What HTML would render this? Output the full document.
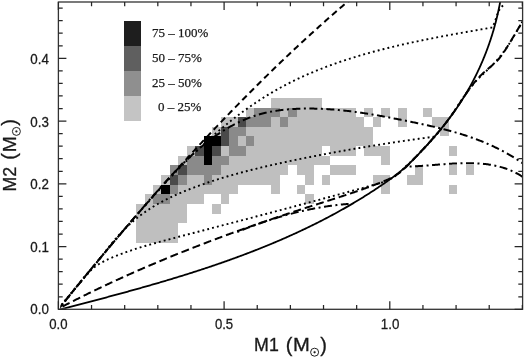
<!DOCTYPE html>
<html><head><meta charset="utf-8"><style>
html,body{margin:0;padding:0;background:#fff;}
body{width:525px;height:358px;overflow:hidden;position:relative;font-family:"Liberation Sans",sans-serif;}
svg{position:absolute;left:0;top:0;will-change:transform;}
</style></head><body>
<svg width="525" height="358" viewBox="0 0 525 358">
<defs><clipPath id="c"><rect x="60.2" y="2.0" width="462.40000000000003" height="306.7"/></clipPath></defs>
<g shape-rendering="crispEdges">
<rect x="136.10" y="232.95" width="8.45" height="9.65" fill="#bfbfbf"/>
<rect x="144.55" y="232.95" width="8.45" height="9.65" fill="#bfbfbf"/>
<rect x="153.00" y="232.95" width="8.45" height="9.65" fill="#bfbfbf"/>
<rect x="161.45" y="232.95" width="8.45" height="9.65" fill="#bfbfbf"/>
<rect x="169.90" y="232.95" width="8.45" height="9.65" fill="#bfbfbf"/>
<rect x="136.10" y="223.30" width="8.45" height="9.65" fill="#bfbfbf"/>
<rect x="144.55" y="223.30" width="8.45" height="9.65" fill="#bfbfbf"/>
<rect x="153.00" y="223.30" width="8.45" height="9.65" fill="#bfbfbf"/>
<rect x="161.45" y="223.30" width="8.45" height="9.65" fill="#bfbfbf"/>
<rect x="169.90" y="223.30" width="8.45" height="9.65" fill="#bfbfbf"/>
<rect x="136.10" y="213.65" width="8.45" height="9.65" fill="#bfbfbf"/>
<rect x="144.55" y="213.65" width="8.45" height="9.65" fill="#bfbfbf"/>
<rect x="153.00" y="213.65" width="8.45" height="9.65" fill="#bfbfbf"/>
<rect x="161.45" y="213.65" width="8.45" height="9.65" fill="#bfbfbf"/>
<rect x="169.90" y="213.65" width="8.45" height="9.65" fill="#bfbfbf"/>
<rect x="178.35" y="213.65" width="8.45" height="9.65" fill="#bfbfbf"/>
<rect x="136.10" y="204.00" width="8.45" height="9.65" fill="#bfbfbf"/>
<rect x="144.55" y="204.00" width="8.45" height="9.65" fill="#bfbfbf"/>
<rect x="153.00" y="204.00" width="8.45" height="9.65" fill="#bfbfbf"/>
<rect x="161.45" y="204.00" width="8.45" height="9.65" fill="#bfbfbf"/>
<rect x="169.90" y="204.00" width="8.45" height="9.65" fill="#bfbfbf"/>
<rect x="178.35" y="204.00" width="8.45" height="9.65" fill="#bfbfbf"/>
<rect x="212.15" y="204.00" width="8.45" height="9.65" fill="#bfbfbf"/>
<rect x="144.55" y="194.35" width="8.45" height="9.65" fill="#bfbfbf"/>
<rect x="153.00" y="194.35" width="8.45" height="9.65" fill="#8a8a8a"/>
<rect x="161.45" y="194.35" width="8.45" height="9.65" fill="#8a8a8a"/>
<rect x="169.90" y="194.35" width="8.45" height="9.65" fill="#bfbfbf"/>
<rect x="178.35" y="194.35" width="8.45" height="9.65" fill="#bfbfbf"/>
<rect x="186.80" y="194.35" width="8.45" height="9.65" fill="#bfbfbf"/>
<rect x="195.25" y="194.35" width="8.45" height="9.65" fill="#bfbfbf"/>
<rect x="220.60" y="194.35" width="8.45" height="9.65" fill="#bfbfbf"/>
<rect x="305.10" y="194.35" width="8.45" height="9.65" fill="#bfbfbf"/>
<rect x="153.00" y="184.70" width="8.45" height="9.65" fill="#bfbfbf"/>
<rect x="161.45" y="184.70" width="8.45" height="9.65" fill="#000000"/>
<rect x="169.90" y="184.70" width="8.45" height="9.65" fill="#8a8a8a"/>
<rect x="178.35" y="184.70" width="8.45" height="9.65" fill="#bfbfbf"/>
<rect x="186.80" y="184.70" width="8.45" height="9.65" fill="#bfbfbf"/>
<rect x="195.25" y="184.70" width="8.45" height="9.65" fill="#bfbfbf"/>
<rect x="203.70" y="184.70" width="8.45" height="9.65" fill="#bfbfbf"/>
<rect x="212.15" y="184.70" width="8.45" height="9.65" fill="#bfbfbf"/>
<rect x="220.60" y="184.70" width="8.45" height="9.65" fill="#bfbfbf"/>
<rect x="229.05" y="184.70" width="8.45" height="9.65" fill="#bfbfbf"/>
<rect x="271.30" y="184.70" width="8.45" height="9.65" fill="#bfbfbf"/>
<rect x="296.65" y="184.70" width="8.45" height="9.65" fill="#bfbfbf"/>
<rect x="381.15" y="184.70" width="8.45" height="9.65" fill="#bfbfbf"/>
<rect x="448.75" y="184.70" width="8.45" height="9.65" fill="#bfbfbf"/>
<rect x="161.45" y="175.05" width="8.45" height="9.65" fill="#bfbfbf"/>
<rect x="169.90" y="175.05" width="8.45" height="9.65" fill="#4a4a4a"/>
<rect x="178.35" y="175.05" width="8.45" height="9.65" fill="#8a8a8a"/>
<rect x="186.80" y="175.05" width="8.45" height="9.65" fill="#bfbfbf"/>
<rect x="195.25" y="175.05" width="8.45" height="9.65" fill="#bfbfbf"/>
<rect x="203.70" y="175.05" width="8.45" height="9.65" fill="#8a8a8a"/>
<rect x="212.15" y="175.05" width="8.45" height="9.65" fill="#bfbfbf"/>
<rect x="220.60" y="175.05" width="8.45" height="9.65" fill="#bfbfbf"/>
<rect x="229.05" y="175.05" width="8.45" height="9.65" fill="#bfbfbf"/>
<rect x="237.50" y="175.05" width="8.45" height="9.65" fill="#bfbfbf"/>
<rect x="245.95" y="175.05" width="8.45" height="9.65" fill="#bfbfbf"/>
<rect x="254.40" y="175.05" width="8.45" height="9.65" fill="#bfbfbf"/>
<rect x="262.85" y="175.05" width="8.45" height="9.65" fill="#bfbfbf"/>
<rect x="271.30" y="175.05" width="8.45" height="9.65" fill="#bfbfbf"/>
<rect x="305.10" y="175.05" width="8.45" height="9.65" fill="#bfbfbf"/>
<rect x="322.00" y="175.05" width="8.45" height="9.65" fill="#bfbfbf"/>
<rect x="372.70" y="175.05" width="8.45" height="9.65" fill="#bfbfbf"/>
<rect x="381.15" y="175.05" width="8.45" height="9.65" fill="#bfbfbf"/>
<rect x="406.50" y="175.05" width="8.45" height="9.65" fill="#bfbfbf"/>
<rect x="414.95" y="175.05" width="8.45" height="9.65" fill="#bfbfbf"/>
<rect x="169.90" y="165.40" width="8.45" height="9.65" fill="#8a8a8a"/>
<rect x="178.35" y="165.40" width="8.45" height="9.65" fill="#4a4a4a"/>
<rect x="186.80" y="165.40" width="8.45" height="9.65" fill="#8a8a8a"/>
<rect x="195.25" y="165.40" width="8.45" height="9.65" fill="#8a8a8a"/>
<rect x="203.70" y="165.40" width="8.45" height="9.65" fill="#8a8a8a"/>
<rect x="212.15" y="165.40" width="8.45" height="9.65" fill="#8a8a8a"/>
<rect x="220.60" y="165.40" width="8.45" height="9.65" fill="#bfbfbf"/>
<rect x="229.05" y="165.40" width="8.45" height="9.65" fill="#bfbfbf"/>
<rect x="237.50" y="165.40" width="8.45" height="9.65" fill="#bfbfbf"/>
<rect x="245.95" y="165.40" width="8.45" height="9.65" fill="#bfbfbf"/>
<rect x="254.40" y="165.40" width="8.45" height="9.65" fill="#bfbfbf"/>
<rect x="262.85" y="165.40" width="8.45" height="9.65" fill="#bfbfbf"/>
<rect x="271.30" y="165.40" width="8.45" height="9.65" fill="#bfbfbf"/>
<rect x="279.75" y="165.40" width="8.45" height="9.65" fill="#bfbfbf"/>
<rect x="296.65" y="165.40" width="8.45" height="9.65" fill="#bfbfbf"/>
<rect x="305.10" y="165.40" width="8.45" height="9.65" fill="#bfbfbf"/>
<rect x="330.45" y="165.40" width="8.45" height="9.65" fill="#bfbfbf"/>
<rect x="338.90" y="165.40" width="8.45" height="9.65" fill="#bfbfbf"/>
<rect x="347.35" y="165.40" width="8.45" height="9.65" fill="#bfbfbf"/>
<rect x="414.95" y="165.40" width="8.45" height="9.65" fill="#bfbfbf"/>
<rect x="448.75" y="165.40" width="8.45" height="9.65" fill="#bfbfbf"/>
<rect x="465.65" y="165.40" width="8.45" height="9.65" fill="#bfbfbf"/>
<rect x="178.35" y="155.75" width="8.45" height="9.65" fill="#bfbfbf"/>
<rect x="186.80" y="155.75" width="8.45" height="9.65" fill="#8a8a8a"/>
<rect x="195.25" y="155.75" width="8.45" height="9.65" fill="#8a8a8a"/>
<rect x="203.70" y="155.75" width="8.45" height="9.65" fill="#000000"/>
<rect x="212.15" y="155.75" width="8.45" height="9.65" fill="#8a8a8a"/>
<rect x="220.60" y="155.75" width="8.45" height="9.65" fill="#8a8a8a"/>
<rect x="229.05" y="155.75" width="8.45" height="9.65" fill="#bfbfbf"/>
<rect x="237.50" y="155.75" width="8.45" height="9.65" fill="#bfbfbf"/>
<rect x="245.95" y="155.75" width="8.45" height="9.65" fill="#bfbfbf"/>
<rect x="254.40" y="155.75" width="8.45" height="9.65" fill="#bfbfbf"/>
<rect x="262.85" y="155.75" width="8.45" height="9.65" fill="#bfbfbf"/>
<rect x="271.30" y="155.75" width="8.45" height="9.65" fill="#bfbfbf"/>
<rect x="279.75" y="155.75" width="8.45" height="9.65" fill="#bfbfbf"/>
<rect x="288.20" y="155.75" width="8.45" height="9.65" fill="#bfbfbf"/>
<rect x="296.65" y="155.75" width="8.45" height="9.65" fill="#bfbfbf"/>
<rect x="305.10" y="155.75" width="8.45" height="9.65" fill="#bfbfbf"/>
<rect x="313.55" y="155.75" width="8.45" height="9.65" fill="#bfbfbf"/>
<rect x="322.00" y="155.75" width="8.45" height="9.65" fill="#bfbfbf"/>
<rect x="381.15" y="155.75" width="8.45" height="9.65" fill="#bfbfbf"/>
<rect x="186.80" y="146.10" width="8.45" height="9.65" fill="#bfbfbf"/>
<rect x="195.25" y="146.10" width="8.45" height="9.65" fill="#4a4a4a"/>
<rect x="203.70" y="146.10" width="8.45" height="9.65" fill="#000000"/>
<rect x="212.15" y="146.10" width="8.45" height="9.65" fill="#4a4a4a"/>
<rect x="220.60" y="146.10" width="8.45" height="9.65" fill="#bfbfbf"/>
<rect x="229.05" y="146.10" width="8.45" height="9.65" fill="#8a8a8a"/>
<rect x="237.50" y="146.10" width="8.45" height="9.65" fill="#8a8a8a"/>
<rect x="245.95" y="146.10" width="8.45" height="9.65" fill="#bfbfbf"/>
<rect x="254.40" y="146.10" width="8.45" height="9.65" fill="#bfbfbf"/>
<rect x="262.85" y="146.10" width="8.45" height="9.65" fill="#bfbfbf"/>
<rect x="271.30" y="146.10" width="8.45" height="9.65" fill="#bfbfbf"/>
<rect x="279.75" y="146.10" width="8.45" height="9.65" fill="#bfbfbf"/>
<rect x="288.20" y="146.10" width="8.45" height="9.65" fill="#bfbfbf"/>
<rect x="296.65" y="146.10" width="8.45" height="9.65" fill="#bfbfbf"/>
<rect x="305.10" y="146.10" width="8.45" height="9.65" fill="#bfbfbf"/>
<rect x="313.55" y="146.10" width="8.45" height="9.65" fill="#bfbfbf"/>
<rect x="330.45" y="146.10" width="8.45" height="9.65" fill="#bfbfbf"/>
<rect x="338.90" y="146.10" width="8.45" height="9.65" fill="#bfbfbf"/>
<rect x="347.35" y="146.10" width="8.45" height="9.65" fill="#bfbfbf"/>
<rect x="364.25" y="146.10" width="8.45" height="9.65" fill="#bfbfbf"/>
<rect x="372.70" y="146.10" width="8.45" height="9.65" fill="#bfbfbf"/>
<rect x="381.15" y="146.10" width="8.45" height="9.65" fill="#bfbfbf"/>
<rect x="448.75" y="146.10" width="8.45" height="9.65" fill="#bfbfbf"/>
<rect x="203.70" y="136.45" width="8.45" height="9.65" fill="#000000"/>
<rect x="212.15" y="136.45" width="8.45" height="9.65" fill="#000000"/>
<rect x="220.60" y="136.45" width="8.45" height="9.65" fill="#4a4a4a"/>
<rect x="229.05" y="136.45" width="8.45" height="9.65" fill="#8a8a8a"/>
<rect x="237.50" y="136.45" width="8.45" height="9.65" fill="#bfbfbf"/>
<rect x="245.95" y="136.45" width="8.45" height="9.65" fill="#8a8a8a"/>
<rect x="254.40" y="136.45" width="8.45" height="9.65" fill="#bfbfbf"/>
<rect x="262.85" y="136.45" width="8.45" height="9.65" fill="#bfbfbf"/>
<rect x="271.30" y="136.45" width="8.45" height="9.65" fill="#bfbfbf"/>
<rect x="279.75" y="136.45" width="8.45" height="9.65" fill="#bfbfbf"/>
<rect x="288.20" y="136.45" width="8.45" height="9.65" fill="#bfbfbf"/>
<rect x="296.65" y="136.45" width="8.45" height="9.65" fill="#bfbfbf"/>
<rect x="305.10" y="136.45" width="8.45" height="9.65" fill="#bfbfbf"/>
<rect x="313.55" y="136.45" width="8.45" height="9.65" fill="#bfbfbf"/>
<rect x="322.00" y="136.45" width="8.45" height="9.65" fill="#bfbfbf"/>
<rect x="330.45" y="136.45" width="8.45" height="9.65" fill="#bfbfbf"/>
<rect x="338.90" y="136.45" width="8.45" height="9.65" fill="#bfbfbf"/>
<rect x="347.35" y="136.45" width="8.45" height="9.65" fill="#bfbfbf"/>
<rect x="355.80" y="136.45" width="8.45" height="9.65" fill="#bfbfbf"/>
<rect x="364.25" y="136.45" width="8.45" height="9.65" fill="#bfbfbf"/>
<rect x="212.15" y="126.80" width="8.45" height="9.65" fill="#bfbfbf"/>
<rect x="220.60" y="126.80" width="8.45" height="9.65" fill="#4a4a4a"/>
<rect x="229.05" y="126.80" width="8.45" height="9.65" fill="#8a8a8a"/>
<rect x="237.50" y="126.80" width="8.45" height="9.65" fill="#8a8a8a"/>
<rect x="245.95" y="126.80" width="8.45" height="9.65" fill="#bfbfbf"/>
<rect x="254.40" y="126.80" width="8.45" height="9.65" fill="#bfbfbf"/>
<rect x="262.85" y="126.80" width="8.45" height="9.65" fill="#bfbfbf"/>
<rect x="271.30" y="126.80" width="8.45" height="9.65" fill="#bfbfbf"/>
<rect x="279.75" y="126.80" width="8.45" height="9.65" fill="#bfbfbf"/>
<rect x="288.20" y="126.80" width="8.45" height="9.65" fill="#bfbfbf"/>
<rect x="296.65" y="126.80" width="8.45" height="9.65" fill="#bfbfbf"/>
<rect x="305.10" y="126.80" width="8.45" height="9.65" fill="#bfbfbf"/>
<rect x="313.55" y="126.80" width="8.45" height="9.65" fill="#bfbfbf"/>
<rect x="322.00" y="126.80" width="8.45" height="9.65" fill="#bfbfbf"/>
<rect x="330.45" y="126.80" width="8.45" height="9.65" fill="#bfbfbf"/>
<rect x="338.90" y="126.80" width="8.45" height="9.65" fill="#bfbfbf"/>
<rect x="347.35" y="126.80" width="8.45" height="9.65" fill="#bfbfbf"/>
<rect x="355.80" y="126.80" width="8.45" height="9.65" fill="#bfbfbf"/>
<rect x="364.25" y="126.80" width="8.45" height="9.65" fill="#bfbfbf"/>
<rect x="440.30" y="126.80" width="8.45" height="9.65" fill="#bfbfbf"/>
<rect x="220.60" y="117.15" width="8.45" height="9.65" fill="#bfbfbf"/>
<rect x="229.05" y="117.15" width="8.45" height="9.65" fill="#bfbfbf"/>
<rect x="237.50" y="117.15" width="8.45" height="9.65" fill="#4a4a4a"/>
<rect x="245.95" y="117.15" width="8.45" height="9.65" fill="#8a8a8a"/>
<rect x="254.40" y="117.15" width="8.45" height="9.65" fill="#8a8a8a"/>
<rect x="262.85" y="117.15" width="8.45" height="9.65" fill="#8a8a8a"/>
<rect x="271.30" y="117.15" width="8.45" height="9.65" fill="#bfbfbf"/>
<rect x="279.75" y="117.15" width="8.45" height="9.65" fill="#8a8a8a"/>
<rect x="288.20" y="117.15" width="8.45" height="9.65" fill="#bfbfbf"/>
<rect x="296.65" y="117.15" width="8.45" height="9.65" fill="#bfbfbf"/>
<rect x="305.10" y="117.15" width="8.45" height="9.65" fill="#bfbfbf"/>
<rect x="313.55" y="117.15" width="8.45" height="9.65" fill="#bfbfbf"/>
<rect x="322.00" y="117.15" width="8.45" height="9.65" fill="#bfbfbf"/>
<rect x="330.45" y="117.15" width="8.45" height="9.65" fill="#bfbfbf"/>
<rect x="338.90" y="117.15" width="8.45" height="9.65" fill="#bfbfbf"/>
<rect x="347.35" y="117.15" width="8.45" height="9.65" fill="#bfbfbf"/>
<rect x="355.80" y="117.15" width="8.45" height="9.65" fill="#bfbfbf"/>
<rect x="372.70" y="117.15" width="8.45" height="9.65" fill="#bfbfbf"/>
<rect x="398.05" y="117.15" width="8.45" height="9.65" fill="#bfbfbf"/>
<rect x="431.85" y="117.15" width="8.45" height="9.65" fill="#bfbfbf"/>
<rect x="440.30" y="117.15" width="8.45" height="9.65" fill="#bfbfbf"/>
<rect x="245.95" y="107.50" width="8.45" height="9.65" fill="#bfbfbf"/>
<rect x="254.40" y="107.50" width="8.45" height="9.65" fill="#8a8a8a"/>
<rect x="262.85" y="107.50" width="8.45" height="9.65" fill="#8a8a8a"/>
<rect x="271.30" y="107.50" width="8.45" height="9.65" fill="#8a8a8a"/>
<rect x="279.75" y="107.50" width="8.45" height="9.65" fill="#bfbfbf"/>
<rect x="288.20" y="107.50" width="8.45" height="9.65" fill="#8a8a8a"/>
<rect x="296.65" y="107.50" width="8.45" height="9.65" fill="#bfbfbf"/>
<rect x="305.10" y="107.50" width="8.45" height="9.65" fill="#bfbfbf"/>
<rect x="313.55" y="107.50" width="8.45" height="9.65" fill="#bfbfbf"/>
<rect x="322.00" y="107.50" width="8.45" height="9.65" fill="#bfbfbf"/>
<rect x="330.45" y="107.50" width="8.45" height="9.65" fill="#bfbfbf"/>
<rect x="338.90" y="107.50" width="8.45" height="9.65" fill="#bfbfbf"/>
<rect x="347.35" y="107.50" width="8.45" height="9.65" fill="#bfbfbf"/>
<rect x="364.25" y="107.50" width="8.45" height="9.65" fill="#bfbfbf"/>
<rect x="381.15" y="107.50" width="8.45" height="9.65" fill="#bfbfbf"/>
<rect x="398.05" y="107.50" width="8.45" height="9.65" fill="#bfbfbf"/>
<rect x="423.40" y="107.50" width="8.45" height="9.65" fill="#bfbfbf"/>
<rect x="271.30" y="97.85" width="8.45" height="9.65" fill="#bfbfbf"/>
<rect x="279.75" y="97.85" width="8.45" height="9.65" fill="#bfbfbf"/>
<rect x="288.20" y="97.85" width="8.45" height="9.65" fill="#bfbfbf"/>
<rect x="296.65" y="97.85" width="8.45" height="9.65" fill="#bfbfbf"/>
<rect x="305.10" y="97.85" width="8.45" height="9.65" fill="#bfbfbf"/>
<rect x="313.55" y="97.85" width="8.45" height="9.65" fill="#bfbfbf"/>
</g>
<g fill="none" stroke="#000" stroke-width="2.0" clip-path="url(#c)">
<path d="M58.72,309.83 L59.67,309.58 L60.63,309.33 L61.59,309.09 L62.55,308.84 L63.50,308.59 L64.46,308.34 L65.42,308.10 L66.38,307.85 L67.34,307.60 L68.30,307.35 L69.25,307.10 L70.21,306.85 L71.17,306.60 L72.13,306.36 L73.09,306.11 L74.05,305.86 L75.01,305.61 L75.97,305.36 L76.93,305.11 L77.89,304.86 L78.85,304.61 L79.82,304.36 L80.78,304.11 L81.74,303.86 L82.70,303.61 L83.66,303.36 L84.62,303.10 L85.58,302.85 L86.54,302.60 L87.51,302.35 L88.47,302.10 L89.43,301.85 L90.39,301.59 L91.36,301.34 L92.32,301.09 L93.28,300.83 L94.24,300.58 L95.21,300.33 L96.17,300.07 L97.13,299.82 L98.09,299.56 L99.06,299.31 L100.02,299.05 L100.98,298.80 L101.95,298.54 L102.91,298.29 L103.87,298.03 L104.84,297.77 L105.80,297.52 L106.77,297.26 L107.73,297.00 L108.69,296.74 L109.66,296.48 L110.62,296.23 L111.58,295.97 L112.55,295.71 L113.51,295.45 L114.48,295.19 L115.44,294.93 L116.40,294.67 L117.37,294.41 L118.33,294.14 L119.30,293.88 L120.26,293.62 L121.22,293.36 L122.19,293.10 L123.15,292.83 L124.12,292.57 L125.08,292.30 L126.04,292.04 L127.01,291.77 L127.97,291.51 L128.94,291.24 L129.90,290.98 L130.86,290.71 L131.83,290.44 L132.79,290.18 L133.76,289.91 L134.72,289.64 L135.68,289.37 L136.65,289.10 L137.61,288.83 L138.57,288.56 L139.54,288.29 L140.50,288.02 L141.46,287.75 L142.43,287.47 L143.39,287.20 L144.35,286.93 L145.32,286.66 L146.28,286.38 L147.24,286.11 L148.20,285.83 L149.17,285.56 L150.13,285.28 L151.09,285.00 L152.05,284.72 L153.02,284.45 L153.98,284.17 L154.94,283.89 L155.90,283.61 L156.87,283.33 L157.83,283.05 L158.79,282.77 L159.75,282.49 L160.71,282.20 L161.67,281.92 L162.63,281.64 L163.59,281.35 L164.55,281.07 L165.52,280.78 L166.48,280.50 L167.44,280.21 L168.40,279.92 L169.36,279.63 L170.32,279.35 L171.27,279.06 L172.23,278.77 L173.19,278.48 L174.15,278.18 L175.11,277.89 L176.07,277.60 L177.03,277.31 L177.99,277.01 L178.94,276.72 L179.90,276.42 L180.86,276.13 L181.82,275.83 L182.77,275.54 L183.73,275.24 L184.69,274.94 L185.65,274.64 L186.60,274.34 L187.56,274.04 L188.51,273.74 L189.47,273.44 L190.42,273.13 L191.38,272.83 L192.33,272.53 L193.29,272.22 L194.24,271.91 L195.20,271.61 L196.15,271.30 L197.10,270.99 L198.06,270.68 L199.01,270.37 L199.96,270.06 L200.92,269.75 L201.87,269.44 L202.82,269.13 L203.77,268.81 L204.72,268.50 L205.67,268.19 L206.63,267.87 L207.58,267.55 L208.53,267.24 L209.48,266.92 L210.43,266.60 L211.37,266.28 L212.32,265.96 L213.27,265.63 L214.22,265.31 L215.17,264.99 L216.12,264.66 L217.06,264.34 L218.01,264.01 L218.96,263.69 L219.90,263.36 L220.85,263.03 L221.79,262.70 L222.74,262.37 L223.68,262.04 L224.63,261.71 L225.57,261.37 L226.52,261.04 L227.46,260.71 L228.40,260.37 L229.35,260.03 L230.29,259.70 L231.23,259.36 L232.17,259.02 L233.11,258.68 L234.05,258.34 L234.99,257.99 L235.93,257.65 L236.87,257.31 L237.81,256.96 L238.75,256.61 L239.69,256.27 L240.63,255.92 L241.56,255.57 L242.50,255.22 L243.44,254.87 L244.37,254.52 L245.31,254.16 L246.24,253.81 L247.18,253.45 L248.11,253.10 L249.05,252.74 L249.98,252.38 L250.91,252.02 L251.84,251.66 L252.78,251.30 L253.71,250.94 L254.64,250.58 L255.57,250.21 L256.50,249.85 L257.43,249.48 L258.36,249.11 L259.29,248.74 L260.21,248.37 L261.14,248.00 L262.07,247.63 L263.00,247.26 L263.92,246.88 L264.85,246.51 L265.77,246.13 L266.70,245.75 L267.62,245.38 L268.55,245.00 L269.47,244.61 L270.39,244.23 L271.31,243.85 L272.23,243.47 L273.15,243.08 L274.08,242.69 L274.99,242.31 L275.91,241.92 L276.83,241.53 L277.75,241.14 L278.67,240.74 L279.59,240.35 L280.50,239.96 L281.42,239.56 L282.33,239.16 L283.25,238.76 L284.16,238.36 L285.08,237.96 L285.99,237.56 L286.90,237.16 L287.81,236.75 L288.72,236.35 L289.63,235.94 L290.54,235.53 L291.45,235.12 L292.36,234.71 L293.27,234.30 L294.18,233.89 L295.09,233.47 L295.99,233.06 L296.90,232.64 L297.80,232.22 L298.71,231.80 L299.61,231.38 L300.51,230.96 L301.42,230.54 L302.32,230.11 L303.22,229.69 L304.12,229.26 L305.02,228.83 L305.92,228.40 L306.82,227.97 L307.71,227.54 L308.61,227.11 L309.51,226.67 L310.40,226.23 L311.30,225.80 L312.19,225.36 L313.09,224.92 L313.98,224.47 L314.87,224.03 L315.76,223.59 L316.66,223.14 L317.55,222.69 L318.44,222.25 L319.32,221.80 L320.21,221.34 L321.10,220.89 L321.99,220.44 L322.87,219.98 L323.76,219.52 L324.64,219.07 L325.53,218.61 L326.41,218.14 L327.29,217.68 L328.17,217.22 L329.05,216.75 L329.93,216.28 L330.81,215.82 L331.69,215.35 L332.57,214.87 L333.45,214.40 L334.32,213.93 L335.20,213.45 L336.07,212.97 L336.95,212.49 L337.82,212.01 L338.69,211.53 L339.56,211.05 L340.43,210.56 L341.30,210.08 L342.17,209.59 L343.04,209.10 L343.91,208.61 L344.78,208.12 L345.64,207.62 L346.51,207.13 L347.37,206.63 L348.23,206.13 L349.10,205.63 L349.96,205.13 L350.82,204.63 L351.68,204.12 L352.54,203.62 L353.40,203.11 L354.25,202.60 L355.11,202.09 L355.97,201.58 L356.82,201.06 L357.68,200.55 L358.53,200.03 L359.38,199.51 L360.23,198.99 L361.08,198.47 L361.93,197.94 L362.78,197.42 L363.63,196.89 L364.48,196.36 L365.32,195.83 L366.17,195.30 L367.01,194.77 L367.86,194.23 L368.70,193.69 L369.54,193.15 L370.38,192.61 L371.22,192.07 L372.06,191.53 L372.90,190.98 L373.74,190.44 L374.57,189.89 L375.41,189.34 L376.24,188.78 L377.07,188.23 L377.91,187.68 L378.74,187.12 L379.57,186.56 L380.40,186.00 L381.23,185.44 L382.06,184.87 L382.88,184.31 L383.71,183.74 L384.53,183.17 L385.36,182.60 L386.18,182.02 L387.00,181.45 L387.82,180.87 L388.63,180.29 L389.45,179.71 L390.26,179.12 L391.07,178.53 L391.88,177.94 L392.68,177.35 L393.49,176.75 L394.29,176.15 L395.08,175.54 L395.88,174.93 L396.67,174.32 L397.46,173.71 L398.24,173.09 L399.02,172.47 L399.80,171.84 L400.57,171.21 L401.34,170.57 L402.11,169.93 L402.87,169.29 L403.62,168.64 L404.37,167.99 L405.12,167.33 L405.86,166.67 L406.60,166.00 L407.34,165.33 L408.06,164.65 L408.79,163.97 L409.51,163.29 L410.23,162.60 L410.94,161.91 L411.66,161.21 L412.36,160.52 L413.07,159.81 L413.77,159.11 L414.47,158.40 L415.17,157.69 L415.86,156.98 L416.56,156.26 L417.25,155.55 L417.93,154.83 L418.62,154.10 L419.31,153.38 L419.99,152.65 L420.67,151.93 L421.36,151.20 L422.04,150.47 L422.72,149.74 L423.40,149.01 L424.08,148.27 L424.75,147.54 L425.43,146.80 L426.10,146.06 L426.78,145.32 L427.45,144.58 L428.12,143.84 L428.79,143.10 L429.46,142.35 L430.12,141.60 L430.79,140.86 L431.45,140.11 L432.11,139.36 L432.78,138.60 L433.43,137.85 L434.09,137.09 L434.75,136.34 L435.40,135.58 L436.05,134.82 L436.70,134.05 L437.35,133.29 L438.00,132.53 L438.64,131.76 L439.28,130.99 L439.92,130.22 L440.56,129.45 L441.20,128.67 L441.83,127.90 L442.46,127.12 L443.09,126.34 L443.72,125.56 L444.34,124.78 L444.97,123.99 L445.59,123.21 L446.20,122.42 L446.82,121.63 L447.43,120.84 L448.04,120.04 L448.65,119.25 L449.25,118.45 L449.85,117.65 L450.45,116.85 L451.05,116.05 L451.64,115.24 L452.23,114.44 L452.82,113.63 L453.40,112.82 L453.98,112.00 L454.56,111.19 L455.14,110.37 L455.71,109.55 L456.28,108.73 L456.84,107.91 L457.41,107.08 L457.97,106.26 L458.52,105.43 L459.08,104.60 L459.63,103.76 L460.17,102.93 L460.72,102.09 L461.26,101.25 L461.79,100.41 L462.33,99.57 L462.86,98.72 L463.39,97.88 L463.91,97.03 L464.43,96.18 L464.95,95.32 L465.46,94.47 L465.98,93.61 L466.48,92.76 L466.99,91.90 L467.49,91.03 L467.99,90.17 L468.49,89.31 L468.98,88.44 L469.47,87.57 L469.95,86.70 L470.44,85.83 L470.92,84.95 L471.39,84.08 L471.86,83.20 L472.33,82.32 L472.80,81.44 L473.26,80.56 L473.72,79.67 L474.18,78.79 L474.63,77.90 L475.08,77.01 L475.53,76.12 L475.98,75.23 L476.42,74.33 L476.85,73.43 L477.29,72.54 L477.72,71.64 L478.14,70.74 L478.57,69.83 L478.99,68.93 L479.41,68.03 L479.82,67.12 L480.23,66.21 L480.64,65.30 L481.04,64.39 L481.44,63.47 L481.84,62.56 L482.24,61.64 L482.63,60.73 L483.01,59.81 L483.40,58.89 L483.78,57.96 L484.16,57.04 L484.53,56.12 L484.90,55.19 L485.27,54.26 L485.63,53.33 L486.00,52.40 L486.35,51.47 L486.71,50.54 L487.06,49.60 L487.41,48.67 L487.75,47.73 L488.09,46.79 L488.43,45.85 L488.76,44.91 L489.09,43.97 L489.42,43.02 L489.74,42.08 L490.07,41.13 L490.38,40.18 L490.70,39.24 L491.01,38.29 L491.31,37.33 L491.62,36.38 L491.92,35.43 L492.22,34.47 L492.51,33.52 L492.80,32.56 L493.09,31.60 L493.37,30.64 L493.65,29.68 L493.93,28.72 L494.20,27.76 L494.47,26.79 L494.73,25.83 L495.00,24.86 L495.26,23.89 L495.51,22.92 L495.76,21.96 L496.01,20.98 L496.26,20.01 L496.50,19.04 L496.74,18.07 L496.98,17.09 L497.21,16.12 L497.44,15.14 L497.66,14.16 L497.88,13.18 L498.10,12.20 L498.31,11.22 L498.52,10.24 L498.73,9.26 L498.94,8.28 L499.14,7.29 L499.33,6.31 L499.53,5.32 L499.72,4.33 L499.90,3.35 L500.09,2.36 L500.27,1.37 L500.44,0.38" stroke-width="1.8"/>
<path d="M58.40,309.30 L59.40,308.05 L60.40,306.80 L61.40,305.56 L62.40,304.31 L63.40,303.07 L64.40,301.82 L65.40,300.58 L66.40,299.34 L67.40,298.10 L68.40,296.86 L69.40,295.62 L70.40,294.39 L71.40,293.15 L72.40,291.92 L73.40,290.68 L74.40,289.45 L75.40,288.22 L76.40,286.99 L77.40,285.76 L78.40,284.53 L79.40,283.31 L80.40,282.08 L81.40,280.86 L82.40,279.63 L83.40,278.41 L84.40,277.19 L85.40,275.97 L86.40,274.75 L87.40,273.54 L88.40,272.32 L89.40,271.11 L90.40,269.89 L91.40,268.68 L92.40,267.47 L93.40,266.26 L94.40,265.05 L95.40,263.84 L96.40,262.63 L97.40,261.43 L98.40,260.22 L99.40,259.02 L100.40,257.82 L101.40,256.62 L102.40,255.42 L103.40,254.22 L104.40,253.02 L105.40,251.82 L106.40,250.63 L107.40,249.44 L108.40,248.24 L109.40,247.05 L110.40,245.86 L111.40,244.67 L112.40,243.48 L113.40,242.30 L114.40,241.11 L115.40,239.93 L116.40,238.75 L117.40,237.56 L118.40,236.38 L119.40,235.20 L120.40,234.03 L121.40,232.85 L122.40,231.67 L123.40,230.50 L124.40,229.33 L125.40,228.15 L126.40,226.98 L127.40,225.81 L128.40,224.64 L129.40,223.48 L130.40,222.31 L131.40,221.15 L132.40,219.98 L133.40,218.82 L134.40,217.66 L135.40,216.50 L136.40,215.34 L137.40,214.19 L138.40,213.03 L139.40,211.87 L140.40,210.72 L141.40,209.57 L142.40,208.42 L143.40,207.27 L144.40,206.12 L145.40,204.97 L146.40,203.83 L147.40,202.68 L148.40,201.54 L149.40,200.40 L150.40,199.26 L151.40,198.12 L152.40,196.98 L153.40,195.84 L154.40,194.71 L155.40,193.57 L156.40,192.44 L157.40,191.31 L158.40,190.18 L159.40,189.05 L160.40,187.92 L161.40,186.79 L162.40,185.67 L163.40,184.54 L164.40,183.42 L165.40,182.30 L166.40,181.18 L167.40,180.06 L168.40,178.94 L169.40,177.83 L170.40,176.71 L171.40,175.60 L172.40,174.49 L173.40,173.38 L174.40,172.27 L175.40,171.16 L176.40,170.05 L177.40,168.95 L178.40,167.84 L179.40,166.74 L180.40,165.64 L181.40,164.54 L182.40,163.44 L183.40,162.34 L184.40,161.24 L185.40,160.15 L186.40,159.06 L187.40,157.96 L188.40,156.87 L189.40,155.78 L190.40,154.69 L191.40,153.61 L192.40,152.52 L193.40,151.44 L194.40,150.36 L195.40,149.27 L196.40,148.19 L197.40,147.12 L198.40,146.04 L199.40,144.96 L200.40,143.89 L201.40,142.81 L202.40,141.74 L203.40,140.67 L204.40,139.60 L205.40,138.54 L206.40,137.47 L207.40,136.40 L208.40,135.34 L209.40,134.28 L210.40,133.22 L211.40,132.16 L212.40,131.10 L213.40,130.04 L214.40,128.99 L215.40,127.93 L216.40,126.88 L217.40,125.83 L218.40,124.78 L219.40,123.73 L220.40,122.69 L221.40,121.64 L222.40,120.60 L223.40,119.56 L224.40,118.51 L225.40,117.47 L226.40,116.44 L227.40,115.40 L228.40,114.36 L229.40,113.33 L230.40,112.30 L231.40,111.27 L232.40,110.24 L233.40,109.21 L234.40,108.18 L235.40,107.16 L236.40,106.13 L237.40,105.11 L238.40,104.09 L239.40,103.07 L240.40,102.05 L241.40,101.03 L242.40,100.02 L243.40,99.00 L244.40,97.99 L245.40,96.98 L246.40,95.97 L247.40,94.96 L248.40,93.96 L249.40,92.95 L250.40,91.95 L251.40,90.95 L252.40,89.95 L253.40,88.95 L254.40,87.95 L255.40,86.95 L256.40,85.96 L257.40,84.96 L258.40,83.97 L259.40,82.98 L260.40,81.99 L261.40,81.01 L262.40,80.02 L263.40,79.03 L264.40,78.05 L265.40,77.07 L266.40,76.09 L267.40,75.11 L268.40,74.13 L269.40,73.16 L270.40,72.19 L271.40,71.21 L272.40,70.24 L273.40,69.27 L274.40,68.30 L275.40,67.34 L276.40,66.37 L277.40,65.41 L278.40,64.45 L279.40,63.49 L280.40,62.53 L281.40,61.57 L282.40,60.62 L283.40,59.66 L284.40,58.71 L285.40,57.76 L286.40,56.81 L287.40,55.86 L288.40,54.91 L289.40,53.97 L290.40,53.03 L291.40,52.08 L292.40,51.14 L293.40,50.20 L294.40,49.27 L295.40,48.33 L296.40,47.40 L297.40,46.46 L298.40,45.53 L299.40,44.60 L300.40,43.68 L301.40,42.75 L302.40,41.82 L303.40,40.90 L304.40,39.98 L305.40,39.06 L306.40,38.14 L307.40,37.22 L308.40,36.31 L309.40,35.39 L310.40,34.48 L311.40,33.57 L312.40,32.66 L313.40,31.75 L314.40,30.85 L315.40,29.94 L316.40,29.04 L317.40,28.14 L318.40,27.24 L319.40,26.34 L320.40,25.45 L321.40,24.55 L322.40,23.66 L323.40,22.77 L324.40,21.88 L325.40,20.99 L326.40,20.10 L327.40,19.22 L328.40,18.33 L329.40,17.45 L330.40,16.57 L331.40,15.69 L332.40,14.82 L333.40,13.94 L334.40,13.07 L335.40,12.19 L336.40,11.32 L337.40,10.45 L338.40,9.59 L339.40,8.72 L340.40,7.86 L341.40,7.00 L342.40,6.13 L343.40,5.28 L344.40,4.42 L345.40,3.56 L346.40,2.71 L347.40,1.86 L348.40,1.01 L348.50,0.92" stroke-dasharray="6.3,4" stroke-dashoffset="9.78"/>
<path d="M58.30,309.21 L58.93,308.43 L59.56,307.66 L60.19,306.88 L60.82,306.10 L61.45,305.33 L62.09,304.55 L62.72,303.77 L63.35,303.00 L63.98,302.22 L64.61,301.45 L65.24,300.67 L65.87,299.90 L66.51,299.12 L67.14,298.34 L67.77,297.57 L68.40,296.79 L69.03,296.02 L69.67,295.25 L70.30,294.47 L70.93,293.70 L71.56,292.92 L72.19,292.15 L72.83,291.37 L73.46,290.60 L74.09,289.83 L74.72,289.05 L75.36,288.28 L75.99,287.50 L76.62,286.73 L77.26,285.96 L77.89,285.19 L78.52,284.41 L79.16,283.64 L79.79,282.87 L80.42,282.10 L81.06,281.32 L81.69,280.55 L82.32,279.78 L82.96,279.01 L83.59,278.24 L84.23,277.46 L84.86,276.69 L85.50,275.92 L86.13,275.15 L86.77,274.38 L87.40,273.61 L88.04,272.84 L88.67,272.07 L89.31,271.30 L89.94,270.53 L90.58,269.76 L91.22,268.99 L91.85,268.22 L92.49,267.45 L93.13,266.68 L93.76,265.91 L94.40,265.14 L95.04,264.37 L95.68,263.61 L96.31,262.84 L96.95,262.07 L97.59,261.30 L98.23,260.53 L98.87,259.77 L99.50,259.00 L100.14,258.23 L100.78,257.46 L101.42,256.70 L102.06,255.93 L102.70,255.16 L103.34,254.40 L103.98,253.63 L104.62,252.87 L105.26,252.10 L105.90,251.34 L106.54,250.57 L107.19,249.80 L107.83,249.04 L108.47,248.28 L109.11,247.51 L109.75,246.75 L110.40,245.98 L111.04,245.22 L111.68,244.45 L112.33,243.69 L112.97,242.93 L113.61,242.16 L114.26,241.40 L114.90,240.64 L115.55,239.88 L116.19,239.11 L116.84,238.35 L117.48,237.59 L118.13,236.83 L118.77,236.07 L119.42,235.31 L120.07,234.54 L120.71,233.78 L121.36,233.02 L122.01,232.26 L122.66,231.50 L123.31,230.74 L123.96,229.98 L124.60,229.22 L125.25,228.46 L125.90,227.70 L126.55,226.95 L127.20,226.19 L127.85,225.43 L128.50,224.67 L129.16,223.91 L129.81,223.16 L130.46,222.40 L131.11,221.64 L131.76,220.88 L132.42,220.13 L133.07,219.37 L133.72,218.61 L134.38,217.86 L135.03,217.10 L135.69,216.35 L136.34,215.59 L137.00,214.84 L137.65,214.08 L138.31,213.33 L138.97,212.57 L139.63,211.82 L140.28,211.06 L140.94,210.31 L141.60,209.56 L142.26,208.80 L142.92,208.05 L143.58,207.30 L144.24,206.55 L144.90,205.79 L145.56,205.04 L146.22,204.29 L146.88,203.54 L147.54,202.79 L148.20,202.04 L148.87,201.29 L149.53,200.54 L150.19,199.79 L150.86,199.04 L151.52,198.29 L152.19,197.54 L152.86,196.80 L153.52,196.05 L154.19,195.30 L154.86,194.56 L155.53,193.81 L156.20,193.07 L156.87,192.32 L157.54,191.58 L158.21,190.83 L158.88,190.09 L159.55,189.35 L160.22,188.61 L160.90,187.86 L161.57,187.12 L162.25,186.38 L162.92,185.64 L163.60,184.91 L164.27,184.17 L164.95,183.43 L165.63,182.69 L166.31,181.96 L166.99,181.22 L167.67,180.49 L168.35,179.75 L169.03,179.02 L169.72,178.29 L170.40,177.56 L171.08,176.83 L171.77,176.10 L172.46,175.37 L173.14,174.64 L173.83,173.91 L174.52,173.18 L175.21,172.46 L175.90,171.73 L176.59,171.01 L177.28,170.29 L177.98,169.57 L178.67,168.84 L179.37,168.12 L180.06,167.40 L180.76,166.69 L181.46,165.97 L182.16,165.25 L182.86,164.54 L183.56,163.82 L184.26,163.11 L184.96,162.40 L185.66,161.69 L186.37,160.98 L187.08,160.27 L187.78,159.56 L188.49,158.85 L189.20,158.15 L189.91,157.44 L190.62,156.74 L191.33,156.04 L192.05,155.34 L192.76,154.64 L193.48,153.94 L194.19,153.24 L194.91,152.55 L195.63,151.85 L196.35,151.16 L197.07,150.47 L197.79,149.77 L198.52,149.08 L199.24,148.40 L199.97,147.71 L200.70,147.02 L201.43,146.34 L202.16,145.66 L202.89,144.98 L203.62,144.30 L204.35,143.62 L205.09,142.94 L205.82,142.26 L206.56,141.59 L207.30,140.92 L208.04,140.24 L208.78,139.57 L209.52,138.91 L210.27,138.24 L211.01,137.57 L211.76,136.91 L212.51,136.25 L213.26,135.59 L214.01,134.93 L214.76,134.27 L215.51,133.61 L216.27,132.96 L217.03,132.31 L217.78,131.66 L218.54,131.01 L219.30,130.36 L220.06,129.71 L220.83,129.07 L221.59,128.43 L222.36,127.79 L223.12,127.15 L223.89,126.51 L224.66,125.87 L225.43,125.24 L226.20,124.61 L226.98,123.98 L227.75,123.35 L228.53,122.72 L229.31,122.10 L230.09,121.48 L230.87,120.86 L231.65,120.24 L232.43,119.62 L233.22,119.01 L234.00,118.40 L234.79,117.79 L235.58,117.18 L236.37,116.57 L237.16,115.97 L237.96,115.36 L238.75,114.76 L239.55,114.17 L240.35,113.57 L241.15,112.98 L241.95,112.38 L242.75,111.79 L243.55,111.21 L244.36,110.62 L245.16,110.04 L245.97,109.46 L246.78,108.88 L247.59,108.30 L248.40,107.73 L249.22,107.16 L250.03,106.59 L250.85,106.02 L251.66,105.45 L252.48,104.89 L253.30,104.33 L254.13,103.77 L254.95,103.22 L255.78,102.66 L256.60,102.11 L257.43,101.56 L258.26,101.02 L259.09,100.47 L259.92,99.93 L260.76,99.39 L261.59,98.86 L262.43,98.32 L263.27,97.79 L264.11,97.26 L264.95,96.74 L265.80,96.21 L266.64,95.69 L267.49,95.18 L268.33,94.66 L269.18,94.15 L270.03,93.64 L270.89,93.13 L271.74,92.62 L272.60,92.12 L273.45,91.62 L274.31,91.12 L275.17,90.63 L276.03,90.14 L276.90,89.65 L277.76,89.16 L278.63,88.68 L279.49,88.20 L280.36,87.72 L281.23,87.25 L282.11,86.78 L282.98,86.31 L283.86,85.84 L284.73,85.38 L285.61,84.91 L286.49,84.45 L287.37,84.00 L288.25,83.55 L289.14,83.09 L290.02,82.65 L290.91,82.20 L291.80,81.76 L292.69,81.32 L293.58,80.88 L294.47,80.44 L295.36,80.01 L296.26,79.58 L297.16,79.15 L298.05,78.73 L298.95,78.31 L299.85,77.89 L300.75,77.47 L301.66,77.05 L302.56,76.64 L303.47,76.23 L304.37,75.82 L305.28,75.42 L306.19,75.01 L307.10,74.61 L308.01,74.22 L308.92,73.82 L309.84,73.43 L310.75,73.03 L311.67,72.65 L312.59,72.26 L313.51,71.87 L314.43,71.49 L315.35,71.11 L316.27,70.74 L317.19,70.36 L318.12,69.99 L319.04,69.62 L319.97,69.25 L320.90,68.88 L321.82,68.52 L322.75,68.16 L323.68,67.80 L324.62,67.44 L325.55,67.08 L326.48,66.73 L327.42,66.38 L328.35,66.03 L329.29,65.68 L330.23,65.34 L331.17,65.00 L332.11,64.66 L333.05,64.32 L333.99,63.98 L334.93,63.65 L335.87,63.31 L336.82,62.98 L337.76,62.65 L338.71,62.33 L339.66,62.00 L340.60,61.68 L341.55,61.36 L342.50,61.04 L343.45,60.72 L344.40,60.41 L345.35,60.09 L346.31,59.78 L347.26,59.47 L348.22,59.17 L349.17,58.86 L350.13,58.56 L351.08,58.26 L352.04,57.96 L353.00,57.66 L353.96,57.36 L354.92,57.07 L355.88,56.77 L356.84,56.48 L357.80,56.19 L358.76,55.90 L359.72,55.62 L360.69,55.33 L361.65,55.05 L362.62,54.77 L363.58,54.49 L364.55,54.21 L365.52,53.94 L366.48,53.66 L367.45,53.39 L368.42,53.12 L369.39,52.85 L370.36,52.58 L371.33,52.31 L372.30,52.05 L373.27,51.78 L374.24,51.52 L375.21,51.26 L376.19,51.00 L377.16,50.74 L378.13,50.49 L379.11,50.23 L380.08,49.98 L381.06,49.73 L382.03,49.48 L383.01,49.23 L383.98,48.98 L384.96,48.74 L385.94,48.49 L386.91,48.25 L387.89,48.01 L388.87,47.77 L389.85,47.53 L390.83,47.29 L391.81,47.05 L392.79,46.82 L393.77,46.58 L394.75,46.35 L395.73,46.12 L396.71,45.89 L397.69,45.66 L398.67,45.43 L399.65,45.21 L400.63,44.98 L401.62,44.76 L402.60,44.53 L403.58,44.31 L404.56,44.09 L405.55,43.87 L406.53,43.65 L407.51,43.43 L408.50,43.22 L409.48,43.00 L410.46,42.79 L411.45,42.58 L412.43,42.36 L413.41,42.15 L414.40,41.94 L415.38,41.74 L416.37,41.53 L417.35,41.32 L418.34,41.11 L419.32,40.91 L420.30,40.71 L421.29,40.50 L422.27,40.30 L423.26,40.10 L424.24,39.90 L425.23,39.70 L426.21,39.50 L427.20,39.30 L428.18,39.11 L429.17,38.91 L430.15,38.72 L431.13,38.52 L432.12,38.33 L433.10,38.14 L434.09,37.94 L435.07,37.75 L436.05,37.56 L437.04,37.37 L438.02,37.18 L439.01,37.00 L439.99,36.81 L440.97,36.62 L441.96,36.44 L442.94,36.25 L443.92,36.07 L444.90,35.88 L445.88,35.70 L446.87,35.52 L447.85,35.33 L448.83,35.15 L449.81,34.97 L450.79,34.79 L451.77,34.61 L452.75,34.43 L453.73,34.25 L454.71,34.08 L455.69,33.90 L456.67,33.72 L457.65,33.54 L458.63,33.37 L459.61,33.19 L460.58,33.02 L461.56,32.84 L462.54,32.67 L463.51,32.49 L464.49,32.32 L465.47,32.15 L466.44,31.97 L467.42,31.80 L468.39,31.63 L469.37,31.46 L470.34,31.29 L471.31,31.12 L472.28,30.95 L473.26,30.78 L474.23,30.61 L475.20,30.44 L476.17,30.27 L477.14,30.10 L478.11,29.93 L479.08,29.76 L480.05,29.59 L481.01,29.42 L481.98,29.25 L482.95,29.08 L483.91,28.92 L484.88,28.75 L485.84,28.58 L486.81,28.41 L487.77,28.25 L488.73,28.08 L489.69,27.91 L490.66,27.75 L491.62,27.58 L492.58,27.41 L495.00,21.50 L496.60,16.50 L498.60,11.00 L501.20,7.00 L504.50,4.20" stroke-dasharray="1.9,3.1" stroke-width="1.9"/>
<path d="M58.58,309.52 L59.16,308.68 L59.74,307.85 L60.33,307.03 L60.92,306.21 L61.51,305.39 L62.11,304.58 L62.71,303.77 L63.31,302.97 L63.92,302.16 L64.53,301.37 L65.14,300.57 L65.76,299.78 L66.38,299.00 L67.00,298.21 L67.62,297.43 L68.25,296.65 L68.88,295.88 L69.51,295.11 L70.14,294.34 L70.78,293.57 L71.41,292.80 L72.05,292.04 L72.69,291.28 L73.33,290.51 L73.97,289.76 L74.61,289.00 L75.26,288.24 L75.90,287.49 L76.55,286.73 L77.20,285.98 L77.84,285.22 L78.49,284.47 L79.14,283.72 L79.79,282.97 L80.43,282.21 L81.08,281.46 L81.73,280.71 L82.38,279.96 L83.03,279.20 L83.67,278.45 L84.32,277.69 L84.97,276.94 L85.61,276.18 L86.26,275.42 L86.90,274.66 L87.54,273.90 L88.18,273.14 L88.82,272.38 L89.46,271.61 L90.09,270.84 L90.73,270.07 L91.36,269.30 L91.99,268.52 L92.62,267.74 L93.25,266.96 L93.87,266.18 L94.50,265.39 L95.12,264.61 L95.74,263.82 L96.36,263.03 L96.98,262.24 L97.59,261.44 L98.21,260.65 L98.83,259.85 L99.44,259.06 L100.06,258.26 L100.68,257.47 L101.29,256.67 L101.91,255.87 L102.52,255.08 L103.14,254.28 L103.75,253.48 L104.37,252.69 L104.99,251.89 L105.60,251.10 L106.22,250.31 L106.84,249.52 L107.46,248.73 L108.09,247.94 L108.71,247.15 L109.34,246.37 L109.96,245.58 L110.59,244.80 L111.22,244.03 L111.86,243.25 L112.49,242.48 L113.13,241.71 L113.77,240.94 L114.41,240.17 L115.06,239.41 L115.71,238.66 L116.36,237.90 L117.02,237.15 L117.67,236.41 L118.34,235.67 L119.00,234.93 L119.67,234.20 L120.34,233.47 L121.02,232.74 L121.70,232.03 L122.38,231.31 L123.07,230.60 L123.77,229.90 L124.46,229.20 L125.16,228.51 L125.87,227.82 L126.58,227.14 L127.29,226.46 L128.01,225.78 L128.73,225.11 L129.45,224.45 L130.18,223.79 L130.92,223.14 L131.65,222.49 L132.40,221.84 L133.14,221.21 L133.89,220.57 L134.64,219.94 L135.40,219.32 L136.16,218.70 L136.93,218.08 L137.70,217.47 L138.47,216.87 L139.25,216.27 L140.03,215.67 L140.81,215.08 L141.60,214.49 L142.39,213.91 L143.19,213.33 L143.99,212.76 L144.79,212.20 L145.60,211.63 L146.41,211.08 L147.23,210.52 L148.05,209.98 L148.87,209.43 L149.70,208.89 L150.53,208.36 L151.37,207.83 L152.21,207.31 L153.05,206.79 L153.90,206.27 L154.75,205.76 L155.60,205.26 L156.46,204.76 L157.32,204.26 L158.18,203.77 L159.05,203.28 L159.92,202.80 L160.80,202.32 L161.68,201.84 L162.56,201.37 L163.44,200.91 L164.33,200.45 L165.22,199.99 L166.11,199.53 L167.01,199.08 L167.91,198.64 L168.81,198.20 L169.71,197.76 L170.62,197.33 L171.53,196.90 L172.44,196.47 L173.35,196.05 L174.27,195.63 L175.19,195.21 L176.11,194.80 L177.03,194.39 L177.95,193.98 L178.88,193.58 L179.80,193.18 L180.73,192.79 L181.66,192.39 L182.59,192.01 L183.53,191.62 L184.46,191.24 L185.40,190.86 L186.33,190.48 L187.27,190.11 L188.21,189.73 L189.15,189.37 L190.09,189.00 L191.03,188.64 L191.98,188.28 L192.92,187.92 L193.86,187.56 L194.81,187.21 L195.75,186.86 L196.70,186.51 L197.64,186.17 L198.59,185.82 L199.53,185.48 L200.48,185.14 L201.43,184.81 L202.37,184.47 L203.32,184.14 L204.27,183.81 L205.22,183.49 L206.16,183.16 L207.11,182.84 L208.06,182.52 L209.01,182.20 L209.96,181.88 L210.91,181.57 L211.86,181.25 L212.81,180.94 L213.76,180.64 L214.71,180.33 L215.66,180.03 L216.61,179.72 L217.56,179.42 L218.51,179.12 L219.46,178.83 L220.42,178.53 L221.37,178.24 L222.32,177.95 L223.27,177.66 L224.23,177.37 L225.18,177.09 L226.13,176.80 L227.09,176.52 L228.04,176.24 L229.00,175.96 L229.95,175.69 L230.91,175.41 L231.86,175.14 L232.82,174.87 L233.78,174.60 L234.73,174.33 L235.69,174.06 L236.65,173.80 L237.60,173.54 L238.56,173.27 L239.52,173.01 L240.48,172.75 L241.44,172.50 L242.39,172.24 L243.35,171.99 L244.31,171.73 L245.27,171.48 L246.23,171.23 L247.19,170.98 L248.15,170.74 L249.11,170.49 L250.07,170.25 L251.04,170.00 L252.00,169.76 L252.96,169.52 L253.92,169.28 L254.89,169.04 L255.85,168.81 L256.81,168.57 L257.77,168.33 L258.74,168.10 L259.70,167.87 L260.67,167.64 L261.63,167.41 L262.60,167.18 L263.56,166.95 L264.53,166.72 L265.49,166.50 L266.46,166.27 L267.43,166.05 L268.39,165.83 L269.36,165.61 L270.33,165.39 L271.30,165.17 L272.27,164.95 L273.23,164.73 L274.20,164.51 L275.17,164.30 L276.14,164.08 L277.11,163.87 L278.08,163.65 L279.05,163.44 L280.02,163.23 L280.99,163.02 L281.96,162.80 L282.94,162.59 L283.91,162.38 L284.88,162.18 L285.85,161.97 L286.83,161.76 L287.80,161.55 L288.77,161.35 L289.75,161.14 L290.72,160.94 L291.69,160.73 L292.67,160.53 L293.64,160.33 L294.62,160.12 L295.60,159.92 L296.57,159.72 L297.55,159.52 L298.52,159.32 L299.50,159.12 L300.48,158.92 L301.46,158.72 L302.43,158.52 L303.41,158.32 L304.39,158.13 L305.37,157.93 L306.35,157.73 L307.33,157.54 L308.30,157.34 L309.28,157.15 L310.26,156.96 L311.24,156.76 L312.22,156.57 L313.20,156.38 L314.19,156.19 L315.17,155.99 L316.15,155.80 L317.13,155.61 L318.11,155.42 L319.09,155.24 L320.07,155.05 L321.06,154.86 L322.04,154.67 L323.02,154.49 L324.00,154.30 L324.99,154.11 L325.97,153.93 L326.95,153.74 L327.94,153.56 L328.92,153.38 L329.90,153.19 L330.89,153.01 L331.87,152.83 L332.86,152.65 L333.84,152.47 L334.83,152.29 L335.81,152.11 L336.80,151.93 L337.78,151.75 L338.77,151.57 L339.75,151.39 L340.74,151.22 L341.72,151.04 L342.71,150.86 L343.70,150.69 L344.68,150.51 L345.67,150.34 L346.65,150.16 L347.64,149.99 L348.63,149.82 L349.61,149.64 L350.60,149.47 L351.59,149.30 L352.57,149.13 L353.56,148.96 L354.55,148.79 L355.53,148.62 L356.52,148.45 L357.51,148.28 L358.50,148.11 L359.48,147.95 L360.47,147.78 L361.46,147.61 L362.45,147.45 L363.43,147.28 L364.42,147.12 L365.41,146.95 L366.40,146.79 L367.38,146.63 L368.37,146.46 L369.36,146.30 L370.35,146.14 L371.33,145.98 L372.32,145.82 L373.31,145.66 L374.30,145.50 L375.29,145.34 L376.27,145.18 L377.26,145.02 L378.25,144.86 L379.24,144.70 L380.22,144.55 L381.21,144.39 L382.20,144.24 L383.19,144.08 L384.18,143.92 L385.16,143.77 L386.15,143.62 L387.14,143.46 L388.13,143.31 L389.11,143.16 L390.10,143.01 L391.09,142.85 L392.08,142.70 L393.06,142.55 L394.05,142.40 L395.04,142.25 L396.02,142.10 L397.01,141.95 L398.00,141.81 L398.98,141.66 L399.97,141.51 L400.96,141.36 L401.94,141.22 L402.93,141.07 L403.92,140.93 L404.90,140.78 L405.89,140.64 L406.88,140.49 L407.86,140.35 L408.85,140.21 L409.83,140.06 L410.82,139.92 L411.80,139.78 L412.79,139.64 L413.77,139.50 L414.76,139.36 L415.74,139.22 L416.73,139.08 L417.71,138.94 L418.70,138.80 L419.68,138.66 L420.66,138.52 L421.65,138.39 L422.63,138.25 L423.62,138.11 L424.60,137.98 L425.58,137.84 L426.56,137.71 L427.55,137.57 L428.53,137.44 L429.51,137.31 L430.49,137.17 L431.48,137.04 L432.46,136.91 L433.44,136.78 L434.42,136.65" stroke-dasharray="1.9,3.1" stroke-width="1.9"/>
<path d="M58.14,309.48 L58.79,308.68 L59.43,307.89 L60.08,307.09 L60.72,306.30 L61.36,305.50 L62.01,304.71 L62.65,303.92 L63.29,303.13 L63.94,302.33 L64.58,301.54 L65.22,300.75 L65.86,299.97 L66.50,299.18 L67.14,298.39 L67.78,297.60 L68.42,296.82 L69.06,296.03 L69.70,295.25 L70.34,294.46 L70.98,293.68 L71.62,292.90 L72.26,292.11 L72.89,291.33 L73.53,290.55 L74.17,289.77 L74.81,288.99 L75.44,288.21 L76.08,287.43 L76.72,286.65 L77.35,285.88 L77.99,285.10 L78.62,284.32 L79.26,283.55 L79.89,282.77 L80.53,281.99 L81.16,281.22 L81.80,280.45 L82.43,279.67 L83.07,278.90 L83.70,278.13 L84.34,277.35 L84.97,276.58 L85.61,275.81 L86.24,275.04 L86.88,274.27 L87.51,273.50 L88.14,272.73 L88.78,271.96 L89.41,271.19 L90.04,270.42 L90.68,269.66 L91.31,268.89 L91.94,268.12 L92.58,267.35 L93.21,266.59 L93.84,265.82 L94.48,265.06 L95.11,264.29 L95.75,263.53 L96.38,262.76 L97.01,262.00 L97.65,261.23 L98.28,260.47 L98.91,259.70 L99.55,258.94 L100.18,258.18 L100.81,257.42 L101.45,256.65 L102.08,255.89 L102.72,255.13 L103.35,254.37 L103.98,253.61 L104.62,252.85 L105.25,252.08 L105.89,251.32 L106.52,250.56 L107.16,249.80 L107.79,249.04 L108.43,248.28 L109.06,247.52 L109.70,246.76 L110.34,246.00 L110.97,245.24 L111.61,244.49 L112.24,243.73 L112.88,242.97 L113.52,242.21 L114.16,241.45 L114.79,240.69 L115.43,239.93 L116.07,239.18 L116.71,238.42 L117.34,237.66 L117.98,236.90 L118.62,236.14 L119.26,235.39 L119.90,234.63 L120.54,233.87 L121.18,233.11 L121.82,232.35 L122.46,231.60 L123.10,230.84 L123.75,230.08 L124.39,229.32 L125.03,228.57 L125.67,227.81 L126.32,227.05 L126.96,226.29 L127.60,225.53 L128.25,224.78 L128.89,224.02 L129.54,223.26 L130.18,222.50 L130.83,221.75 L131.48,220.99 L132.12,220.23 L132.77,219.47 L133.42,218.71 L134.07,217.95 L134.72,217.20 L135.36,216.44 L136.01,215.68 L136.66,214.92 L137.32,214.16 L137.97,213.40 L138.62,212.64 L139.27,211.88 L139.92,211.12 L140.58,210.36 L141.23,209.60 L141.89,208.84 L142.54,208.08 L143.20,207.32 L143.85,206.56 L144.51,205.80 L145.17,205.04 L145.83,204.27 L146.48,203.51 L147.14,202.75 L147.80,201.99 L148.47,201.23 L149.13,200.46 L149.79,199.70 L150.45,198.94 L151.11,198.17 L151.78,197.41 L152.44,196.65 L153.11,195.88 L153.78,195.12 L154.44,194.36 L155.11,193.59 L155.78,192.83 L156.45,192.07 L157.12,191.31 L157.79,190.54 L158.47,189.78 L159.14,189.02 L159.81,188.26 L160.49,187.50 L161.17,186.74 L161.84,185.99 L162.52,185.23 L163.20,184.47 L163.88,183.72 L164.56,182.96 L165.25,182.21 L165.93,181.46 L166.61,180.70 L167.30,179.95 L167.99,179.21 L168.68,178.46 L169.37,177.71 L170.06,176.97 L170.75,176.22 L171.44,175.48 L172.14,174.74 L172.83,174.00 L173.53,173.26 L174.23,172.52 L174.93,171.79 L175.63,171.06 L176.33,170.33 L177.04,169.60 L177.74,168.87 L178.45,168.14 L179.16,167.42 L179.87,166.70 L180.58,165.98 L181.30,165.26 L182.01,164.55 L182.73,163.84 L183.44,163.13 L184.16,162.42 L184.89,161.71 L185.61,161.01 L186.33,160.31 L187.06,159.61 L187.79,158.92 L188.52,158.23 L189.25,157.54 L189.98,156.85 L190.72,156.16 L191.45,155.48 L192.19,154.80 L192.93,154.13 L193.67,153.46 L194.42,152.79 L195.16,152.12 L195.91,151.46 L196.66,150.80 L197.41,150.14 L198.17,149.49 L198.92,148.84 L199.68,148.19 L200.44,147.55 L201.20,146.91 L201.96,146.28 L202.73,145.64 L203.50,145.02 L204.27,144.39 L205.04,143.77 L205.81,143.15 L206.59,142.54 L207.37,141.93 L208.15,141.33 L208.93,140.73 L209.72,140.13 L210.51,139.54 L211.29,138.95 L212.09,138.36 L212.88,137.78 L213.68,137.21 L214.48,136.64 L215.28,136.07 L216.08,135.51 L216.89,134.95 L217.70,134.40 L218.51,133.85 L219.32,133.31 L220.14,132.77 L220.96,132.23 L221.78,131.71 L222.60,131.18 L223.43,130.66 L224.26,130.15 L225.09,129.64 L225.92,129.13 L226.76,128.64 L227.60,128.14 L228.44,127.65 L229.28,127.17 L230.13,126.69 L230.98,126.22 L231.83,125.76 L232.69,125.30 L233.55,124.84 L234.41,124.39 L235.27,123.95 L236.14,123.51 L237.01,123.08 L237.88,122.65 L238.75,122.23 L239.63,121.81 L240.51,121.40 L241.40,121.00 L242.28,120.61 L243.17,120.22 L244.07,119.83 L244.96,119.45 L245.86,119.08 L246.77,118.72 L247.67,118.36 L248.58,118.01 L249.49,117.66 L250.40,117.32 L251.32,116.99 L252.24,116.66 L253.17,116.34 L254.09,116.03 L255.02,115.72 L255.96,115.43 L256.89,115.13 L257.84,114.85 L258.78,114.57 L259.73,114.30 L260.68,114.04 L261.63,113.78 L262.59,113.53 L263.55,113.29 L264.51,113.05 L265.48,112.83 L266.45,112.61 L267.42,112.39 L268.39,112.19 L269.37,111.99 L270.35,111.79 L271.34,111.61 L272.32,111.43 L273.31,111.25 L274.30,111.08 L275.30,110.92 L276.29,110.77 L277.29,110.62 L278.29,110.48 L279.29,110.34 L280.29,110.21 L281.30,110.08 L282.30,109.96 L283.31,109.85 L284.32,109.74 L285.33,109.64 L286.34,109.54 L287.36,109.45 L288.37,109.36 L289.38,109.28 L290.40,109.20 L291.41,109.13 L292.43,109.06 L293.45,109.00 L294.47,108.94 L295.48,108.88 L296.50,108.83 L297.52,108.79 L298.54,108.75 L299.56,108.71 L300.58,108.68 L301.59,108.65 L302.61,108.63 L303.63,108.61 L304.64,108.59 L305.66,108.58 L306.68,108.57 L307.69,108.57 L308.70,108.57 L309.72,108.57 L310.73,108.57 L311.74,108.58 L312.75,108.60 L313.77,108.61 L314.78,108.63 L315.79,108.65 L316.79,108.68 L317.80,108.71 L318.81,108.74 L319.82,108.78 L320.83,108.82 L321.83,108.86 L322.84,108.91 L323.84,108.96 L324.85,109.01 L325.85,109.07 L326.86,109.12 L327.86,109.19 L328.86,109.25 L329.86,109.32 L330.87,109.39 L331.87,109.46 L332.87,109.54 L333.87,109.62 L334.87,109.70 L335.87,109.78 L336.86,109.87 L337.86,109.96 L338.86,110.05 L339.86,110.15 L340.85,110.24 L341.85,110.34 L342.85,110.45 L343.84,110.55 L344.84,110.66 L345.83,110.77 L346.83,110.88 L347.82,111.00 L348.81,111.11 L349.81,111.23 L350.80,111.36 L351.79,111.48 L352.78,111.61 L353.77,111.73 L354.76,111.87 L355.75,112.00 L356.74,112.13 L357.73,112.27 L358.72,112.41 L359.71,112.55 L360.70,112.69 L361.69,112.84 L362.68,112.98 L363.67,113.13 L364.65,113.28 L365.64,113.43 L366.63,113.58 L367.61,113.74 L368.60,113.90 L369.58,114.06 L370.57,114.22 L371.56,114.38 L372.54,114.54 L373.52,114.71 L374.51,114.87 L375.49,115.04 L376.48,115.21 L377.46,115.38 L378.44,115.55 L379.43,115.72 L380.41,115.90 L381.39,116.07 L382.37,116.25 L383.36,116.43 L384.34,116.61 L385.32,116.79 L386.30,116.97 L387.28,117.15 L388.26,117.34 L389.24,117.52 L390.22,117.71 L391.20,117.89 L392.18,118.08 L393.16,118.27 L394.14,118.46 L395.12,118.65 L396.10,118.84 L397.08,119.03 L398.06,119.22 L399.04,119.41 L400.02,119.60 L401.00,119.80 L401.98,119.99 L402.96,120.19 L403.93,120.38 L404.91,120.58 L405.89,120.77 L406.87,120.97 L407.85,121.17 L408.82,121.37 L409.80,121.56 L410.78,121.76 L411.76,121.96 L412.73,122.16 L413.71,122.36 L414.69,122.57 L415.66,122.77 L416.64,122.97 L417.61,123.18 L418.59,123.38 L419.56,123.59 L420.54,123.80 L421.51,124.00 L422.49,124.21 L423.46,124.43 L424.43,124.64 L425.41,124.85 L426.38,125.07 L427.35,125.28 L428.32,125.50 L429.29,125.72 L430.26,125.94 L431.23,126.16 L432.20,126.39 L433.17,126.61 L434.14,126.84 L435.11,127.07 L436.08,127.30 L437.04,127.53 L438.01,127.76 L438.98,128.00 L439.94,128.24 L440.91,128.48 L441.87,128.72 L442.83,128.97 L443.79,129.21 L444.76,129.46 L445.72,129.71 L446.68,129.96 L447.64,130.22 L448.60,130.48 L449.55,130.74 L450.51,131.00 L451.47,131.26 L452.42,131.53 L453.38,131.80 L454.33,132.07 L455.29,132.35 L456.24,132.63 L457.19,132.91 L458.14,133.19 L459.09,133.48 L460.04,133.76 L460.99,134.06 L461.93,134.35 L462.88,134.65 L463.82,134.95 L464.77,135.25 L465.71,135.56 L466.65,135.87 L467.59,136.18 L468.53,136.50 L469.47,136.82 L470.41,137.14 L471.34,137.47 L472.28,137.80 L473.21,138.13 L474.15,138.47 L475.08,138.81 L476.01,139.16 L476.94,139.50 L477.87,139.85 L478.79,140.21 L479.72,140.57 L480.64,140.93 L481.57,141.30 L482.49,141.67 L483.41,142.04 L484.33,142.42 L485.25,142.80 L486.16,143.19 L487.08,143.58 L487.99,143.98 L488.91,144.38 L489.82,144.78 L490.73,145.19 L491.63,145.60 L492.54,146.01 L493.45,146.44 L494.35,146.86 L495.25,147.29 L496.15,147.73 L497.05,148.16 L497.95,148.61 L498.85,149.06 L499.74,149.51 L500.64,149.97 L501.53,150.43 L502.42,150.90 L503.31,151.37 L504.19,151.85 L505.08,152.33 L505.96,152.82 L506.84,153.31 L507.72,153.81 L508.60,154.31 L509.48,154.82 L510.35,155.33 L511.23,155.85 L512.10,156.37 L512.97,156.90 L513.84,157.44 L514.70,157.98 L515.57,158.52 L516.43,159.07 L517.29,159.63 L518.15,160.19 L519.01,160.76 L519.86,161.34 L520.71,161.92 L521.56,162.50 L522.41,163.09 L523.26,163.69 L524.11,164.29" stroke-dasharray="8,3.5,2,3.5" stroke-dashoffset="5.58"/>
<path d="M58.29,309.16 L58.95,308.43 L59.61,307.70 L60.27,306.96 L60.92,306.21 L61.57,305.46 L62.22,304.70 L62.86,303.94 L63.50,303.18 L64.13,302.41 L64.76,301.64 L65.39,300.86 L66.02,300.08 L66.65,299.30 L67.27,298.52 L67.89,297.73 L68.51,296.94 L69.13,296.15 L69.75,295.36 L70.36,294.57 L70.98,293.77 L71.59,292.98 L72.20,292.18 L72.82,291.39 L73.43,290.59 L74.04,289.80 L74.66,289.00 L75.27,288.21 L75.89,287.41 L76.50,286.62 L77.12,285.83 L77.74,285.04 L78.36,284.25 L78.98,283.47 L79.60,282.68 L80.23,281.90 L80.86,281.13 L81.49,280.35 L82.12,279.58 L82.76,278.82 L83.40,278.06 L84.04,277.30 L84.69,276.55 L85.34,275.80 L86.00,275.07 L86.66,274.34 L87.34,273.62 L88.02,272.91 L88.71,272.21 L89.40,271.52 L90.11,270.84 L90.83,270.17 L91.56,269.52 L92.30,268.88 L93.05,268.26 L93.81,267.65 L94.59,267.05 L95.37,266.47 L96.17,265.91 L96.98,265.35 L97.80,264.81 L98.63,264.29 L99.47,263.77 L100.32,263.27 L101.18,262.77 L102.04,262.29 L102.92,261.82 L103.80,261.36 L104.69,260.91 L105.58,260.46 L106.48,260.03 L107.38,259.60 L108.29,259.18 L109.21,258.77 L110.13,258.37 L111.05,257.97 L111.97,257.58 L112.90,257.19 L113.83,256.81 L114.77,256.43 L115.70,256.06 L116.64,255.69 L117.57,255.32 L118.51,254.96 L119.45,254.60 L120.38,254.24 L121.32,253.89 L122.26,253.54 L123.21,253.19 L124.15,252.85 L125.09,252.51 L126.04,252.18 L126.98,251.84 L127.93,251.51 L128.87,251.18 L129.82,250.86 L130.77,250.54 L131.72,250.22 L132.66,249.90 L133.61,249.59 L134.57,249.28 L135.52,248.97 L136.47,248.66 L137.42,248.36 L138.37,248.06 L139.33,247.76 L140.28,247.46 L141.24,247.16 L142.19,246.87 L143.15,246.58 L144.11,246.29 L145.06,246.01 L146.02,245.72 L146.98,245.44 L147.94,245.16 L148.90,244.88 L149.86,244.60 L150.82,244.33 L151.78,244.05 L152.74,243.78 L153.70,243.51 L154.66,243.24 L155.63,242.97 L156.59,242.70 L157.55,242.44 L158.51,242.17 L159.48,241.91 L160.44,241.65 L161.41,241.38 L162.37,241.12 L163.33,240.86 L164.30,240.60 L165.26,240.35 L166.23,240.09 L167.19,239.83 L168.16,239.58 L169.13,239.32 L170.09,239.07 L171.06,238.81 L172.02,238.56 L172.99,238.31 L173.96,238.05 L174.92,237.80 L175.89,237.55 L176.86,237.30 L177.82,237.04 L178.79,236.79 L179.75,236.54 L180.72,236.29 L181.69,236.03 L182.65,235.78 L183.62,235.53 L184.59,235.28 L185.55,235.03 L186.52,234.77 L187.49,234.52 L188.45,234.27 L189.42,234.02 L190.39,233.76 L191.35,233.51 L192.32,233.26 L193.29,233.01 L194.25,232.75 L195.22,232.50 L196.18,232.25 L197.15,232.00 L198.12,231.74 L199.08,231.49 L200.05,231.24 L201.02,230.99 L201.98,230.73 L202.95,230.48 L203.92,230.23 L204.88,229.98 L205.85,229.72 L206.82,229.47 L207.78,229.22 L208.75,228.96 L209.72,228.71 L210.68,228.46 L211.65,228.21 L212.61,227.95 L213.58,227.70 L214.55,227.45 L215.51,227.19 L216.48,226.94 L217.45,226.69 L218.41,226.44 L219.38,226.18 L220.35,225.93 L221.31,225.68 L222.28,225.42 L223.24,225.17 L224.21,224.92 L225.18,224.66 L226.14,224.41 L227.11,224.16 L228.08,223.90 L229.04,223.65 L230.01,223.40 L230.98,223.14 L231.94,222.89 L232.91,222.64 L233.87,222.38 L234.84,222.13 L235.81,221.87 L236.77,221.62 L237.74,221.37 L238.71,221.11 L239.67,220.86 L240.64,220.61 L241.60,220.35 L242.57,220.10 L243.54,219.84 L244.50,219.59 L245.47,219.34 L246.43,219.08 L247.40,218.83 L248.37,218.57 L249.33,218.32 L250.30,218.06 L251.27,217.81 L252.23,217.56 L253.20,217.30 L254.16,217.05 L255.13,216.79 L256.10,216.54 L257.06,216.28 L258.03,216.03 L258.99,215.77 L259.96,215.52 L260.93,215.26 L261.89,215.01 L262.86,214.75 L263.83,214.50 L264.79,214.24 L265.76,213.99 L266.72,213.73 L267.69,213.48 L268.66,213.22 L269.62,212.97 L270.59,212.71 L271.55,212.46 L272.52,212.20 L273.49,211.94 L274.45,211.69 L275.42,211.43 L276.38,211.18 L277.35,210.92 L278.31,210.66 L279.28,210.41 L280.25,210.15 L281.21,209.90 L282.18,209.64 L283.14,209.38 L284.11,209.13 L285.08,208.87 L286.04,208.61 L287.01,208.36 L287.97,208.10 L288.94,207.84 L289.90,207.59 L290.87,207.33 L291.84,207.07 L292.80,206.82 L293.77,206.56 L294.73,206.30 L295.70,206.04 L296.66,205.79 L297.63,205.53 L298.60,205.27 L299.56,205.01 L300.53,204.76 L301.49,204.50 L302.46,204.24 L303.42,203.98 L304.39,203.72 L305.36,203.47 L306.32,203.21 L307.29,202.95 L308.25,202.69 L309.22,202.43 L310.18,202.17 L311.15,201.92 L312.11,201.66 L313.08,201.40 L314.05,201.14 L315.01,200.88 L315.98,200.62 L316.94,200.36 L317.91,200.10 L318.87,199.84 L319.84,199.58 L320.80,199.32 L321.77,199.06 L322.73,198.80 L323.70,198.54 L324.66,198.28 L325.63,198.02 L326.60,197.76 L327.56,197.50 L328.53,197.24 L329.49,196.98 L330.46,196.72 L331.42,196.46 L332.39,196.20 L333.35,195.94 L334.32,195.68 L335.28,195.42 L336.25,195.16 L337.21,194.90 L338.18,194.64 L339.14,194.37 L340.11,194.11 L341.07,193.85 L342.04,193.59 L343.00,193.33 L343.97,193.07 L344.93,192.80 L345.90,192.54 L346.86,192.28 L347.83,192.02 L348.79,191.75 L349.76,191.49 L350.72,191.23 L351.69,190.97 L352.65,190.70 L353.62,190.44 L354.58,190.18 L355.55,189.91 L356.51,189.65 L357.48,189.39 L358.44,189.12 L359.41,188.86 L360.37,188.60 L361.33,188.33 L362.30,188.07 L363.26,187.80 L364.23,187.54 L365.19,187.27 L366.16,187.01 L367.12,186.75 L368.09,186.48 L369.05,186.22 L370.02,185.95 L370.98,185.69 L371.94,185.42 L372.91,185.15 L373.87,184.89 L374.84,184.62 L375.80,184.35 L376.76,184.07 L377.71,183.79 L378.67,183.50 L379.62,183.21 L380.56,182.91 L381.50,182.60 L382.44,182.28 L383.37,181.96 L384.30,181.62 L385.22,181.26 L386.13,180.90 L387.03,180.52 L387.93,180.13 L388.82,179.72 L389.70,179.30 L390.57,178.85 L391.43,178.39 L392.28,177.91 L393.12,177.41 L393.95,176.89 L394.76,176.35 L395.57,175.78 L396.36,175.20 L397.14,174.59 L397.91,173.96 L398.67,173.32 L399.43,172.66 L400.18,171.99 L400.92,171.31 L401.66,170.62 L402.39,169.93 L403.12,169.23 L403.85,168.53 L404.58,167.82 L405.30,167.12 L406.03,166.42 L406.76,165.72 L407.48,165.01 L408.20,164.31 L408.93,163.61 L409.65,162.90 L410.37,162.20 L411.09,161.49 L411.81,160.79 L412.53,160.08 L413.24,159.37 L413.96,158.67 L414.67,157.96 L415.38,157.25 L416.10,156.54 L416.81,155.83 L417.51,155.11 L418.22,154.40 L418.93,153.69 L419.63,152.97 L420.33,152.25 L421.03,151.54 L421.73,150.82 L422.43,150.10 L423.12,149.38 L423.81,148.65 L424.50,147.93 L425.19,147.20 L425.88,146.47 L426.56,145.75 L427.25,145.02 L427.93,144.28 L428.61,143.55 L429.28,142.81 L429.95,142.08 L430.63,141.34 L431.29,140.60 L431.96,139.85 L432.62,139.11 L433.29,138.36 L433.94,137.61 L434.60,136.86 L435.25,136.11 L435.90,135.35 L436.55,134.59 L437.20,133.83 L437.84,133.07 L438.48,132.31 L439.11,131.54 L439.75,130.77 L440.38,130.00 L441.00,129.22 L441.63,128.45 L442.25,127.67 L442.86,126.88 L443.48,126.10 L444.09,125.31 L444.69,124.52 L445.30,123.72 L445.90,122.93 L446.49,122.13 L447.09,121.32 L447.68,120.52 L448.26,119.71 L448.84,118.90 L449.42,118.08 L450.00,117.26 L450.57,116.44 L451.13,115.62 L451.70,114.79 L452.26,113.96 L452.82,113.13 L453.38,112.30 L453.94,111.46 L454.49,110.63 L455.04,109.79 L455.60,108.96 L456.15,108.12 L456.70,107.28 L457.25,106.44 L457.80,105.61 L458.35,104.77 L458.90,103.93 L459.45,103.10 L460.00,102.26 L460.56,101.43 L461.11,100.59 L461.67,99.76 L462.23,98.93 L462.79,98.11 L463.35,97.28 L463.92,96.46 L464.49,95.64 L465.06,94.82 L465.63,94.01 L466.21,93.20 L466.79,92.39 L467.38,91.59 L467.97,90.79 L468.57,90.00 L469.17,89.21 L469.77,88.42 L470.38,87.64 L471.00,86.87 L471.62,86.10 L472.25,85.34 L472.88,84.58 L473.52,83.83 L474.17,83.08 L474.83,82.34 L475.49,81.61 L476.16,80.89 L476.84,80.17 L477.52,79.46 L478.22,78.75 L478.92,78.05 L479.62,77.36 L480.33,76.67 L481.04,75.98 L481.76,75.30 L482.48,74.62 L483.20,73.94 L483.93,73.26 L484.65,72.59 L485.38,71.91 L486.10,71.23 L486.82,70.55 L487.54,69.87 L488.26,69.18 L488.98,68.50 L489.69,67.80 L490.39,67.10 L491.09,66.40 L491.79,65.69 L492.48,64.98 L493.17,64.27 L493.85,63.54 L494.53,62.82 L495.20,62.09 L495.86,61.35 L496.53,60.61 L497.18,59.86 L497.83,59.11 L498.48,58.36 L499.12,57.60 L499.76,56.83 L500.39,56.06 L501.01,55.29 L501.63,54.51 L502.24,53.72 L502.85,52.93 L503.45,52.14 L504.05,51.34 L504.64,50.54 L505.22,49.73 L505.80,48.91 L506.37,48.09 L506.94,47.27 L507.50,46.44 L508.06,45.61 L508.61,44.77 L509.16,43.93 L509.70,43.09 L510.24,42.24 L510.77,41.39 L511.30,40.54 L511.83,39.68 L512.35,38.82 L512.87,37.96 L513.39,37.10 L513.90,36.24 L514.41,35.38 L514.92,34.51 L515.43,33.65 L515.94,32.78 L516.44,31.91 L516.95,31.04 L517.45,30.18 L517.95,29.31 L518.46,28.44 L518.96,27.58 L519.46,26.72 L519.96,25.85 L520.46,24.99 L520.96,24.13 L521.47,23.27 L521.97,22.42 L522.48,21.56 L522.98,20.71 L523.49,19.87 L524.00,19.02" stroke-dasharray="1.9,3.1" stroke-width="1.9"/>
<path d="M58.13,308.80 L59.02,308.33 L59.90,307.87 L60.79,307.41 L61.68,306.95 L62.56,306.49 L63.45,306.03 L64.34,305.57 L65.22,305.11 L66.11,304.65 L67.00,304.19 L67.89,303.74 L68.78,303.28 L69.67,302.83 L70.56,302.37 L71.45,301.92 L72.34,301.47 L73.23,301.02 L74.12,300.57 L75.01,300.12 L75.90,299.67 L76.79,299.22 L77.69,298.77 L78.58,298.33 L79.47,297.88 L80.37,297.43 L81.26,296.99 L82.16,296.54 L83.05,296.10 L83.95,295.66 L84.84,295.22 L85.74,294.78 L86.63,294.34 L87.53,293.90 L88.43,293.46 L89.32,293.02 L90.22,292.58 L91.12,292.15 L92.02,291.71 L92.92,291.28 L93.82,290.84 L94.71,290.41 L95.61,289.97 L96.51,289.54 L97.41,289.11 L98.31,288.68 L99.22,288.25 L100.12,287.82 L101.02,287.39 L101.92,286.96 L102.82,286.54 L103.73,286.11 L104.63,285.69 L105.53,285.26 L106.44,284.84 L107.34,284.41 L108.24,283.99 L109.15,283.57 L110.05,283.15 L110.96,282.72 L111.86,282.30 L112.77,281.89 L113.68,281.47 L114.58,281.05 L115.49,280.63 L116.40,280.21 L117.30,279.80 L118.21,279.38 L119.12,278.97 L120.03,278.55 L120.94,278.14 L121.85,277.73 L122.76,277.32 L123.67,276.91 L124.58,276.50 L125.49,276.09 L126.40,275.68 L127.31,275.27 L128.22,274.86 L129.13,274.45 L130.04,274.05 L130.95,273.64 L131.87,273.24 L132.78,272.83 L133.69,272.43 L134.61,272.02 L135.52,271.62 L136.43,271.22 L137.35,270.82 L138.26,270.42 L139.18,270.02 L140.09,269.62 L141.01,269.22 L141.92,268.82 L142.84,268.43 L143.75,268.03 L144.67,267.63 L145.59,267.24 L146.50,266.84 L147.42,266.45 L148.34,266.06 L149.26,265.66 L150.18,265.27 L151.09,264.88 L152.01,264.49 L152.93,264.10 L153.85,263.71 L154.77,263.32 L155.69,262.93 L156.61,262.54 L157.53,262.16 L158.45,261.77 L159.37,261.38 L160.29,261.00 L161.22,260.62 L162.14,260.23 L163.06,259.85 L163.98,259.47 L164.91,259.08 L165.83,258.70 L166.75,258.32 L167.67,257.94 L168.60,257.56 L169.52,257.18 L170.45,256.80 L171.37,256.43 L172.30,256.05 L173.22,255.67 L174.15,255.29 L175.07,254.92 L176.00,254.54 L176.92,254.17 L177.85,253.80 L178.78,253.42 L179.70,253.05 L180.63,252.68 L181.56,252.31 L182.48,251.94 L183.41,251.57 L184.34,251.20 L185.27,250.83 L186.20,250.46 L187.13,250.09 L188.06,249.72 L188.98,249.36 L189.91,248.99 L190.84,248.63 L191.77,248.26 L192.70,247.90 L193.63,247.53 L194.56,247.17 L195.50,246.81 L196.43,246.44 L197.36,246.08 L198.29,245.72 L199.22,245.36 L200.15,245.00 L201.09,244.64 L202.02,244.28 L202.95,243.93 L203.88,243.57 L204.82,243.21 L205.75,242.85 L206.68,242.50 L207.62,242.14 L208.55,241.79 L209.49,241.43 L210.42,241.08 L211.36,240.73 L212.29,240.37 L213.23,240.02 L214.16,239.67 L215.10,239.32 L216.03,238.97 L216.97,238.62 L217.91,238.27 L218.84,237.92 L219.78,237.57 L220.72,237.22 L221.65,236.87 L222.59,236.53 L223.53,236.18 L224.47,235.83 L225.40,235.49 L226.34,235.14 L227.28,234.80 L228.22,234.46 L229.16,234.11 L230.10,233.77 L231.04,233.43 L231.98,233.09 L232.92,232.74 L233.86,232.40 L234.79,232.06 L235.74,231.72 L236.68,231.38 L237.62,231.04 L238.56,230.71 L239.50,230.37 L240.44,230.03 L241.38,229.69 L242.32,229.36 L243.26,229.02 L244.21,228.69 L245.15,228.35 L246.09,228.02 L247.03,227.68 L247.97,227.35 L248.92,227.02 L249.86,226.68 L250.80,226.35 L251.75,226.02 L252.69,225.69 L253.63,225.36 L254.58,225.03 L255.52,224.70 L256.47,224.37 L257.41,224.04 L258.36,223.71 L259.30,223.38 L260.25,223.06 L261.19,222.73 L262.14,222.40 L263.08,222.08 L264.03,221.75 L264.97,221.43 L265.92,221.10 L266.86,220.78 L267.81,220.46 L268.76,220.13 L269.70,219.81 L270.65,219.49 L271.60,219.16 L272.54,218.84 L273.49,218.52 L274.44,218.20 L275.39,217.88 L276.33,217.56 L277.28,217.24 L278.23,216.92 L279.18,216.61 L280.13,216.29 L281.07,215.97 L282.02,215.65 L282.97,215.34 L283.92,215.02 L284.87,214.70 L285.82,214.39 L286.77,214.07 L287.72,213.76 L288.67,213.45 L289.62,213.13 L290.57,212.82 L291.52,212.51 L292.47,212.19 L293.42,211.88 L294.37,211.57 L295.32,211.26 L296.27,210.95 L297.22,210.64 L298.17,210.33 L299.12,210.02 L300.07,209.71 L301.02,209.40 L301.98,209.09 L302.93,208.78 L303.88,208.47 L304.83,208.17 L305.78,207.86 L306.74,207.55 L307.69,207.25 L308.64,206.94 L309.59,206.64 L310.55,206.33 L311.50,206.03 L312.45,205.72 L313.40,205.42 L314.36,205.12 L315.31,204.81 L316.26,204.51 L317.22,204.21 L318.17,203.90 L319.12,203.60 L320.08,203.30 L321.03,203.00 L321.98,202.69 L322.94,202.39 L323.89,202.09 L324.84,201.79 L325.79,201.48 L326.75,201.18 L327.70,200.88 L328.65,200.57 L329.60,200.27 L330.56,199.97 L331.51,199.66 L332.46,199.36 L333.41,199.05 L334.36,198.75 L335.31,198.44 L336.26,198.14 L337.21,197.83 L338.16,197.52 L339.11,197.21 L340.06,196.91 L341.01,196.60 L341.96,196.29 L342.91,195.98 L343.86,195.66 L344.81,195.35 L345.75,195.04 L346.70,194.73 L347.65,194.41 L348.59,194.10 L349.54,193.78 L350.48,193.46 L351.43,193.14 L352.37,192.82 L353.31,192.50 L354.26,192.18 L355.20,191.86 L356.14,191.53 L357.08,191.21 L358.02,190.88 L358.96,190.56 L359.90,190.23 L360.84,189.90 L361.78,189.56 L362.72,189.23 L363.65,188.90 L364.59,188.56 L365.53,188.22 L366.46,187.88 L367.39,187.54 L368.33,187.20 L369.26,186.85 L370.19,186.51 L371.12,186.16 L372.05,185.81 L372.98,185.46 L373.91,185.11 L374.84,184.75 L375.76,184.40 L376.69,184.04 L377.61,183.68 L378.54,183.31 L379.46,182.95 L380.38,182.58 L381.30,182.21 L382.22,181.84 L383.14,181.47 L384.06,181.10 L384.97,180.72 L385.89,180.34 L386.80,179.95 L387.71,179.55 L388.61,179.15 L389.51,178.74 L390.40,178.32 L391.28,177.89 L392.16,177.44 L393.03,176.98 L393.89,176.50 L394.74,176.01 L395.57,175.49 L396.40,174.96 L397.22,174.41 L398.02,173.85 L398.82,173.26 L399.60,172.67 L400.38,172.05 L401.15,171.43 L401.91,170.79 L402.66,170.14 L403.41,169.48 L404.15,168.80 L404.88,168.12 L405.61,167.43 L406.34,166.73 L407.05,166.03 L407.77,165.31 L408.48,164.60 L409.19,163.87 L409.89,163.15 L410.59,162.42 L411.29,161.68 L411.99,160.95 L412.68,160.22 L413.38,159.48 L414.08,158.75 L414.77,158.01 L415.47,157.28 L416.16,156.55 L416.85,155.82 L417.55,155.08 L418.24,154.35 L418.93,153.62 L419.62,152.89 L420.31,152.15 L420.99,151.42 L421.68,150.69 L422.37,149.95 L423.05,149.22 L423.73,148.49 L424.42,147.75 L425.10,147.02 L425.78,146.28 L426.46,145.54 L427.13,144.81 L427.81,144.07 L428.48,143.33 L429.15,142.59 L429.82,141.85 L430.49,141.11 L431.16,140.37 L431.82,139.62 L432.49,138.88 L433.15,138.13 L433.81,137.39 L434.46,136.64 L435.12,135.89 L435.77,135.14 L436.42,134.38 L437.07,133.63 L437.72,132.87 L438.36,132.11 L439.00,131.35 L439.64,130.59 L440.28,129.83 L440.91,129.06 L441.55,128.30 L442.18,127.53 L442.80,126.75 L443.43,125.98 L444.05,125.20 L444.66,124.43 L445.28,123.64 L445.89,122.86 L446.50,122.08 L447.11,121.29 L447.71,120.50 L448.31,119.70 L448.91,118.91 L449.50,118.11 L450.09,117.31 L450.68,116.50 L451.26,115.69 L451.84,114.88 L452.42,114.07 L452.99,113.25 L453.56,112.43 L454.13,111.61 L454.70,110.79 L455.26,109.96 L455.82,109.13 L456.38,108.30 L456.94,107.47 L457.49,106.64 L458.05,105.81 L458.60,104.97 L459.15,104.14 L459.71,103.30 L460.26,102.47 L460.81,101.63 L461.36,100.80 L461.92,99.96 L462.47,99.13 L463.03,98.30 L463.58,97.47 L464.14,96.64 L464.70,95.81 L465.26,94.98 L465.83,94.16 L466.39,93.34 L466.96,92.52 L467.53,91.70 L468.11,90.89 L468.69,90.08 L469.27,89.27 L469.86,88.47 L470.45,87.67 L471.04,86.87 L471.64,86.08 L472.24,85.29 L472.85,84.51 L473.47,83.73 L474.09,82.96 L474.71,82.19 L475.35,81.43 L475.98,80.68 L476.63,79.93 L477.28,79.18 L477.94,78.45 L478.60,77.72 L479.28,76.99 L479.96,76.27 L480.65,75.57 L481.34,74.86 L482.05,74.17 L482.76,73.48 L483.48,72.80 L484.22,72.13 L484.96,71.47 L485.71,70.82 L486.46,70.17 L487.22,69.52 L487.98,68.88 L488.75,68.24 L489.51,67.60 L490.28,66.96 L491.04,66.31 L491.80,65.67 L492.55,65.02 L493.30,64.36 L494.05,63.70 L494.78,63.03 L495.50,62.34 L496.21,61.65 L496.91,60.95 L497.60,60.23 L498.27,59.50 L498.92,58.75 L499.56,57.99 L500.18,57.22 L500.79,56.43 L501.39,55.63 L501.98,54.83 L502.56,54.01 L503.13,53.19 L503.70,52.36 L504.25,51.52 L504.81,50.68 L505.35,49.84 L505.90,48.99 L506.44,48.14 L506.97,47.29 L507.51,46.44 L508.04,45.58 L508.57,44.73 L509.10,43.87 L509.63,43.01 L510.15,42.15 L510.67,41.29 L511.20,40.43 L511.71,39.57 L512.23,38.71 L512.75,37.84 L513.26,36.98 L513.78,36.12 L514.29,35.25 L514.81,34.39 L515.32,33.53 L515.83,32.67 L516.34,31.80 L516.85,30.94 L517.36,30.08 L517.87,29.23 L518.38,28.37 L518.89,27.51 L519.41,26.66 L519.92,25.81 L520.43,24.96 L520.94,24.11 L521.46,23.26 L521.97,22.41 L522.49,21.57 L523.01,20.73 L523.52,19.90 L524.05,19.06" stroke-dasharray="8,3.9" stroke-dashoffset="7.05"/>
<path d="M237.04,232.09 L237.96,231.71 L238.88,231.34 L239.80,230.96 L240.73,230.59 L241.65,230.22 L242.58,229.85 L243.50,229.48 L244.43,229.12 L245.35,228.76 L246.28,228.39 L247.21,228.04 L248.14,227.68 L249.07,227.32 L250.00,226.97 L250.93,226.62 L251.87,226.27 L252.80,225.92 L253.73,225.58 L254.67,225.24 L255.61,224.89 L256.54,224.56 L257.48,224.22 L258.42,223.88 L259.36,223.55 L260.30,223.22 L261.24,222.89 L262.18,222.57 L263.12,222.24 L264.07,221.92 L265.01,221.60 L265.95,221.29 L266.90,220.97 L267.85,220.66 L268.79,220.35 L269.74,220.04 L270.69,219.73 L271.64,219.43 L272.59,219.13 L273.54,218.83 L274.49,218.53 L275.44,218.24 L276.39,217.95 L277.35,217.66 L278.30,217.37 L279.26,217.09 L280.21,216.80 L281.17,216.52 L282.12,216.25 L283.08,215.97 L284.04,215.70 L285.00,215.43 L285.96,215.16 L286.92,214.90 L287.88,214.63 L288.84,214.37 L289.80,214.12 L290.77,213.86 L291.73,213.61 L292.70,213.36 L293.66,213.11 L294.63,212.87 L295.59,212.63 L296.56,212.39 L297.53,212.15 L298.49,211.92 L299.46,211.69 L300.43,211.46 L301.40,211.23 L302.37,211.01 L303.34,210.79 L304.32,210.57 L305.29,210.36 L306.26,210.15 L307.23,209.94 L308.21,209.73 L309.18,209.53 L310.16,209.33 L311.13,209.13 L312.11,208.94 L313.09,208.75 L314.06,208.56 L315.04,208.37 L316.02,208.19 L317.00,208.01 L317.98,207.83 L318.96,207.66 L319.94,207.49 L320.92,207.32 L321.90,207.15 L322.89,206.99 L323.87,206.83 L324.85,206.68 L325.84,206.52 L326.82,206.37 L327.81,206.23 L328.79,206.08 L329.78,205.94 L330.76,205.81 L331.75,205.67 L332.74,205.54 L333.73,205.41 L334.72,205.29 L335.70,205.17 L336.69,205.05 L337.68,204.93 L338.67,204.82 L339.66,204.72 L340.66,204.61 L341.65,204.51 L342.64,204.41 L343.63,204.31 L344.62,204.22 L345.62,204.13 L346.61,204.05 L347.61,203.97 L348.60,203.89" stroke-dasharray="8,3.5,2,3.5" stroke-dashoffset="11.23"/>
<path d="M405.16,166.52 L406.10,166.52 L407.05,166.51 L408.00,166.50 L408.95,166.48 L409.90,166.46 L410.86,166.43 L411.82,166.40 L412.78,166.36 L413.74,166.33 L414.71,166.28 L415.68,166.24 L416.65,166.19 L417.62,166.14 L418.60,166.08 L419.57,166.03 L420.55,165.97 L421.53,165.90 L422.52,165.84 L423.50,165.77 L424.49,165.70 L425.48,165.63 L426.47,165.56 L427.46,165.49 L428.46,165.41 L429.45,165.33 L430.45,165.26 L431.45,165.18 L432.45,165.10 L433.45,165.02 L434.45,164.94 L435.45,164.86 L436.46,164.78 L437.46,164.70 L438.47,164.62 L439.48,164.54 L440.49,164.46 L441.50,164.38 L442.50,164.31 L443.52,164.23 L444.53,164.16 L445.54,164.08 L446.55,164.01 L447.56,163.94 L448.57,163.87 L449.59,163.80 L450.60,163.74 L451.61,163.68 L452.63,163.62 L453.64,163.56 L454.65,163.51 L455.67,163.46 L456.68,163.41 L457.69,163.37 L458.70,163.32 L459.72,163.29 L460.73,163.25 L461.74,163.22 L462.75,163.20 L463.76,163.18 L464.77,163.16 L465.78,163.15 L466.79,163.14 L467.79,163.14 L468.80,163.14 L469.80,163.15 L470.81,163.16 L471.81,163.18 L472.81,163.20 L473.81,163.23 L474.81,163.27 L475.81,163.31 L476.81,163.36 L477.80,163.42 L478.79,163.48 L479.79,163.55 L480.78,163.62 L481.76,163.71 L482.75,163.80 L483.74,163.89 L484.72,164.00 L485.70,164.11 L486.68,164.23 L487.66,164.36 L488.63,164.50 L489.60,164.64 L490.57,164.80 L491.54,164.96 L492.50,165.13 L493.47,165.32 L494.43,165.51 L495.38,165.71 L496.34,165.92 L497.29,166.13 L498.24,166.36 L499.19,166.60 L500.13,166.85 L501.07,167.11 L502.01,167.38 L502.94,167.66 L503.87,167.95 L504.80,168.26 L505.73,168.57 L506.65,168.89 L507.57,169.23 L508.48,169.58 L509.39,169.94 L510.30,170.31 L511.20,170.69 L512.10,171.09 L513.00,171.50 L513.89,171.92 L514.78,172.35 L515.66,172.80 L516.54,173.26 L517.42,173.73 L518.29,174.22 L519.16,174.72 L520.02,175.23 L520.88,175.76 L521.74,176.30 L522.59,176.86 L523.43,177.43" stroke-dasharray="8,3.5,2,3.5" stroke-dashoffset="7.06"/>
</g>
<rect x="58.4" y="2.0" width="464.20000000000005" height="307.3" fill="none" stroke="#333" stroke-width="1.3"/>
<path d="M58.40,309.3 V301.30 M58.40,2.0 V10.00 M91.54,309.3 V305.00 M91.54,2.0 V6.30 M124.68,309.3 V305.00 M124.68,2.0 V6.30 M157.82,309.3 V305.00 M157.82,2.0 V6.30 M190.96,309.3 V305.00 M190.96,2.0 V6.30 M224.10,309.3 V301.30 M224.10,2.0 V10.00 M257.24,309.3 V305.00 M257.24,2.0 V6.30 M290.38,309.3 V305.00 M290.38,2.0 V6.30 M323.52,309.3 V305.00 M323.52,2.0 V6.30 M356.66,309.3 V305.00 M356.66,2.0 V6.30 M389.80,309.3 V301.30 M389.80,2.0 V10.00 M422.94,309.3 V305.00 M422.94,2.0 V6.30 M456.08,309.3 V305.00 M456.08,2.0 V6.30 M489.22,309.3 V305.00 M489.22,2.0 V6.30 M522.36,309.3 V305.00 M522.36,2.0 V6.30 M58.4,309.30 H66.40 M522.6,309.30 H514.60 M58.4,296.75 H62.70 M522.6,296.75 H518.30 M58.4,284.20 H62.70 M522.6,284.20 H518.30 M58.4,271.65 H62.70 M522.6,271.65 H518.30 M58.4,259.10 H62.70 M522.6,259.10 H518.30 M58.4,246.55 H66.40 M522.6,246.55 H514.60 M58.4,234.00 H62.70 M522.6,234.00 H518.30 M58.4,221.45 H62.70 M522.6,221.45 H518.30 M58.4,208.90 H62.70 M522.6,208.90 H518.30 M58.4,196.35 H62.70 M522.6,196.35 H518.30 M58.4,183.80 H66.40 M522.6,183.80 H514.60 M58.4,171.25 H62.70 M522.6,171.25 H518.30 M58.4,158.70 H62.70 M522.6,158.70 H518.30 M58.4,146.15 H62.70 M522.6,146.15 H518.30 M58.4,133.60 H62.70 M522.6,133.60 H518.30 M58.4,121.05 H66.40 M522.6,121.05 H514.60 M58.4,108.50 H62.70 M522.6,108.50 H518.30 M58.4,95.95 H62.70 M522.6,95.95 H518.30 M58.4,83.40 H62.70 M522.6,83.40 H518.30 M58.4,70.85 H62.70 M522.6,70.85 H518.30 M58.4,58.30 H66.40 M522.6,58.30 H514.60 M58.4,45.75 H62.70 M522.6,45.75 H518.30 M58.4,33.20 H62.70 M522.6,33.20 H518.30 M58.4,20.65 H62.70 M522.6,20.65 H518.30 M58.4,8.10 H62.70 M522.6,8.10 H518.30" stroke="#262626" stroke-width="1.25" fill="none"/>
<g shape-rendering="crispEdges">
<rect x="124.4" y="20.7" width="16.8" height="25.2" fill="#1e1e1e"/>
<rect x="124.4" y="45.9" width="16.8" height="25.1" fill="#5f5f5f"/>
<rect x="124.4" y="71.0" width="16.8" height="25.2" fill="#8f8f8f"/>
<rect x="124.4" y="96.2" width="16.8" height="24.5" fill="#c4c4c4"/>
</g>
<g font-family="Liberation Sans, sans-serif" fill="#1a1a1a" stroke="#1a1a1a" stroke-width="0.3">
<g font-size="13" font-family="Liberation Serif, serif" fill="#1a1a1a" stroke="#1a1a1a" stroke-width="0.25">
<text x="151.9" y="37.2">75 – 100%</text>
<text x="151.9" y="62.1">50 – 75%</text>
<text x="151.9" y="87.0">25 – 50%</text>
<text x="157.9" y="111.0">0 – 25%</text>
</g>
<g font-size="15.5">
<text x="30.3" y="314.3" textLength="18.6" lengthAdjust="spacingAndGlyphs">0.0</text>
<text x="30.3" y="251.6" textLength="18.6" lengthAdjust="spacingAndGlyphs">0.1</text>
<text x="30.3" y="189" textLength="18.6" lengthAdjust="spacingAndGlyphs">0.2</text>
<text x="30.3" y="126.5" textLength="18.6" lengthAdjust="spacingAndGlyphs">0.3</text>
<text x="30.3" y="63.8" textLength="18.6" lengthAdjust="spacingAndGlyphs">0.4</text>
<text x="49.3" y="328.6" textLength="18.3" lengthAdjust="spacingAndGlyphs">0.0</text>
<text x="214.9" y="328.6" textLength="18.3" lengthAdjust="spacingAndGlyphs">0.5</text>
<text x="380.8" y="328.6" textLength="18.6" lengthAdjust="spacingAndGlyphs">1.0</text>
</g>
<text x="254.1" y="351.4" font-size="17.8">M1</text>
<text x="285.8" y="351.6" font-size="20">(</text>
<text x="292.9" y="351.4" font-size="17.8" textLength="16.8" lengthAdjust="spacingAndGlyphs">M</text>
<text x="320.2" y="351.6" font-size="20">)</text>
<circle cx="314.6" cy="352.2" r="4.0" fill="none" stroke="#222" stroke-width="1.0"/><circle cx="314.6" cy="352.2" r="0.95" fill="#222"/>
<g transform="translate(15.8,0) rotate(-90)">
<text x="-191.6" y="0" font-size="17.8">M2</text>
<text x="-159.8" y="0.1" font-size="20">(</text>
<text x="-152.3" y="0" font-size="17.8" textLength="16" lengthAdjust="spacingAndGlyphs">M</text>
<text x="-125.8" y="0.1" font-size="20">)</text>
<circle cx="-131.4" cy="0.6" r="4.0" fill="none" stroke="#222" stroke-width="1.0"/><circle cx="-131.4" cy="0.6" r="0.95" fill="#222"/>
</g>
</g>
</svg>
</body></html>
